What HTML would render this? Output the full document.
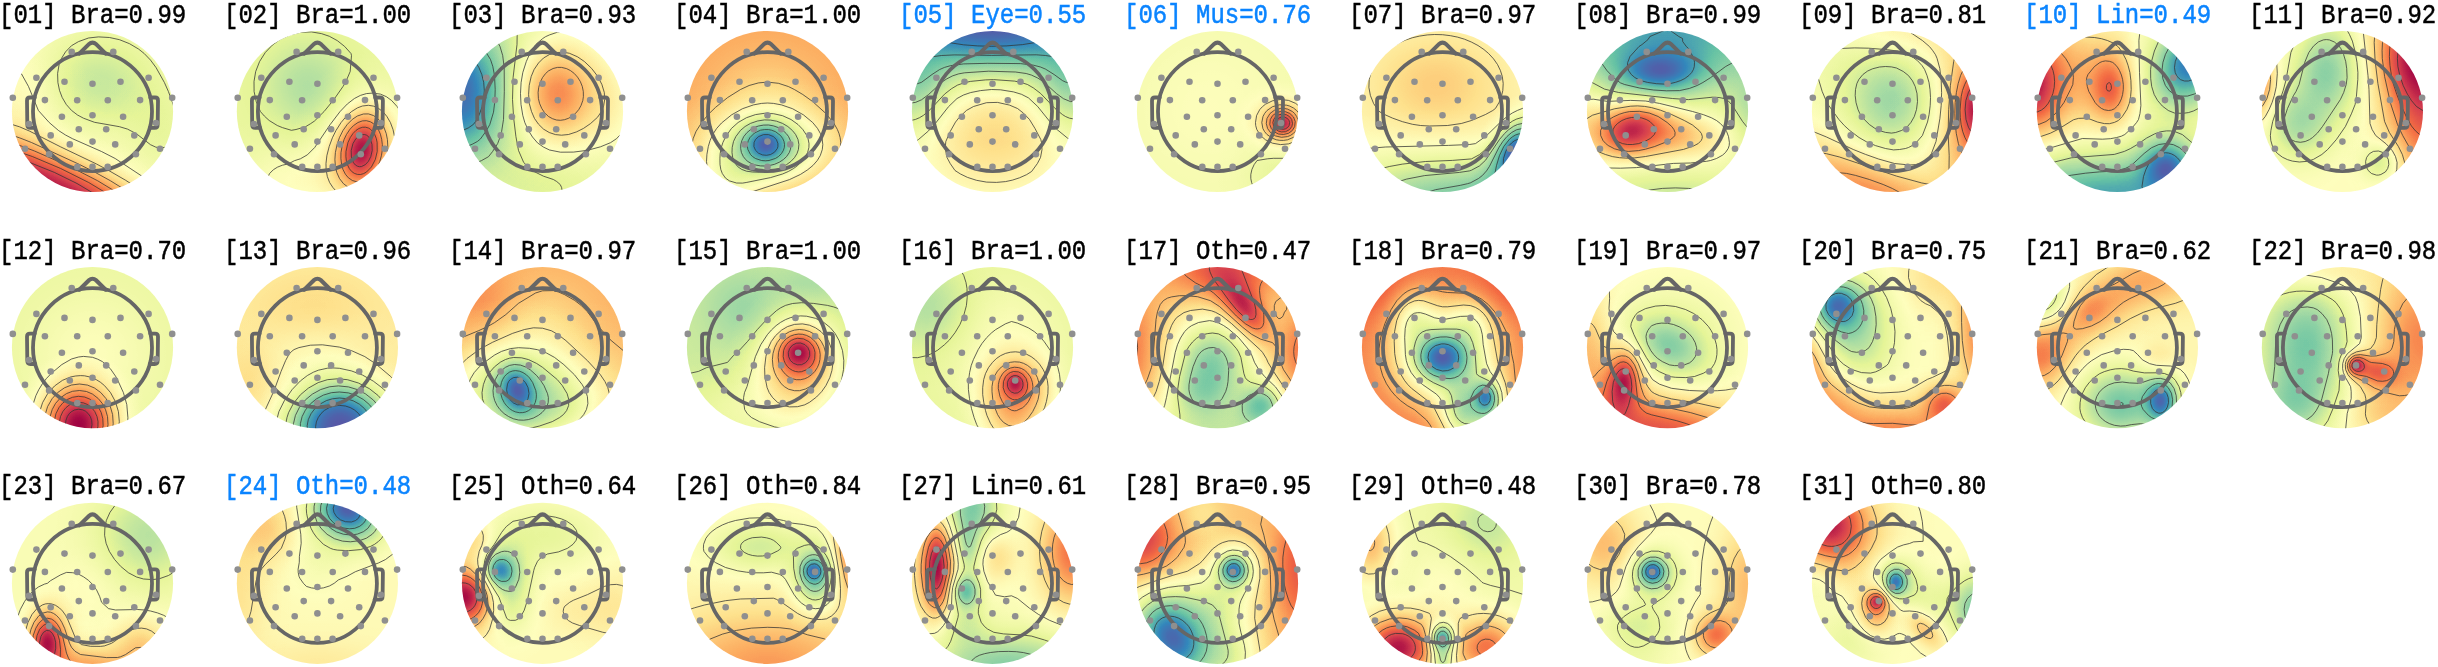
<!DOCTYPE html><html><head><meta charset="utf-8"><title>ICA components</title><style>
html,body{margin:0;padding:0;background:#fff}body{width:2438px;height:667px;overflow:hidden;position:relative;font-family:"Liberation Mono",monospace}
.lb{position:absolute;font-size:24px;line-height:28px;white-space:pre;color:#000;transform-origin:0 0;transform:scale(1,1.13);-webkit-text-stroke:0.45px currentColor}
.lb.b{color:#0a84ff}
svg{position:absolute;left:0;top:0}
.ct{fill:none;stroke:#333;stroke-opacity:.85;stroke-width:.9}
.hd{fill:none;stroke:#666;stroke-width:3.8;stroke-linejoin:round;stroke-linecap:round}
.el{fill:#8f8f8f}
</style></head><body>
<div class="lb" style="left:-1px;top:-.4px">[01] Bra=0.99</div>
<div class="lb" style="left:224px;top:-.4px">[02] Bra=1.00</div>
<div class="lb" style="left:449px;top:-.4px">[03] Bra=0.93</div>
<div class="lb" style="left:674px;top:-.4px">[04] Bra=1.00</div>
<div class="lb b" style="left:899px;top:-.4px">[05] Eye=0.55</div>
<div class="lb b" style="left:1124px;top:-.4px">[06] Mus=0.76</div>
<div class="lb" style="left:1349px;top:-.4px">[07] Bra=0.97</div>
<div class="lb" style="left:1574px;top:-.4px">[08] Bra=0.99</div>
<div class="lb" style="left:1799px;top:-.4px">[09] Bra=0.81</div>
<div class="lb b" style="left:2024px;top:-.4px">[10] Lin=0.49</div>
<div class="lb" style="left:2249px;top:-.4px">[11] Bra=0.92</div>
<div class="lb" style="left:-1px;top:235.6px">[12] Bra=0.70</div>
<div class="lb" style="left:224px;top:235.6px">[13] Bra=0.96</div>
<div class="lb" style="left:449px;top:235.6px">[14] Bra=0.97</div>
<div class="lb" style="left:674px;top:235.6px">[15] Bra=1.00</div>
<div class="lb" style="left:899px;top:235.6px">[16] Bra=1.00</div>
<div class="lb" style="left:1124px;top:235.6px">[17] Oth=0.47</div>
<div class="lb" style="left:1349px;top:235.6px">[18] Bra=0.79</div>
<div class="lb" style="left:1574px;top:235.6px">[19] Bra=0.97</div>
<div class="lb" style="left:1799px;top:235.6px">[20] Bra=0.75</div>
<div class="lb" style="left:2024px;top:235.6px">[21] Bra=0.62</div>
<div class="lb" style="left:2249px;top:235.6px">[22] Bra=0.98</div>
<div class="lb" style="left:-1px;top:471.4px">[23] Bra=0.67</div>
<div class="lb b" style="left:224px;top:471.4px">[24] Oth=0.48</div>
<div class="lb" style="left:449px;top:471.4px">[25] Oth=0.64</div>
<div class="lb" style="left:674px;top:471.4px">[26] Oth=0.84</div>
<div class="lb" style="left:899px;top:471.4px">[27] Lin=0.61</div>
<div class="lb" style="left:1124px;top:471.4px">[28] Bra=0.95</div>
<div class="lb" style="left:1349px;top:471.4px">[29] Oth=0.48</div>
<div class="lb" style="left:1574px;top:471.4px">[30] Bra=0.78</div>
<div class="lb" style="left:1799px;top:471.4px">[31] Oth=0.80</div>
<svg width="2438" height="667" viewBox="0 0 2438 667">
<defs><clipPath id="cp"><circle r="80.6"/></clipPath>
<radialGradient id="gp"><stop offset="0" stop-color="#fff" stop-opacity="1"/><stop offset=".0833" stop-color="#fff" stop-opacity=".969"/><stop offset=".1667" stop-color="#fff" stop-opacity=".882"/><stop offset=".25" stop-color="#fff" stop-opacity=".755"/><stop offset=".3333" stop-color="#fff" stop-opacity=".607"/><stop offset=".4167" stop-color="#fff" stop-opacity=".458"/><stop offset=".5" stop-color="#fff" stop-opacity=".325"/><stop offset=".5833" stop-color="#fff" stop-opacity=".216"/><stop offset=".6667" stop-color="#fff" stop-opacity=".135"/><stop offset=".75" stop-color="#fff" stop-opacity=".08"/><stop offset=".8333" stop-color="#fff" stop-opacity=".044"/><stop offset=".9167" stop-color="#fff" stop-opacity=".023"/><stop offset="1" stop-color="#fff" stop-opacity="0"/></radialGradient>
<radialGradient id="gn"><stop offset="0" stop-color="#000" stop-opacity="1"/><stop offset=".0833" stop-color="#000" stop-opacity=".969"/><stop offset=".1667" stop-color="#000" stop-opacity=".882"/><stop offset=".25" stop-color="#000" stop-opacity=".755"/><stop offset=".3333" stop-color="#000" stop-opacity=".607"/><stop offset=".4167" stop-color="#000" stop-opacity=".458"/><stop offset=".5" stop-color="#000" stop-opacity=".325"/><stop offset=".5833" stop-color="#000" stop-opacity=".216"/><stop offset=".6667" stop-color="#000" stop-opacity=".135"/><stop offset=".75" stop-color="#000" stop-opacity=".08"/><stop offset=".8333" stop-color="#000" stop-opacity=".044"/><stop offset=".9167" stop-color="#000" stop-opacity=".023"/><stop offset="1" stop-color="#000" stop-opacity="0"/></radialGradient>
<filter id="cm" filterUnits="userSpaceOnUse" x="-90" y="-90" width="180" height="180" color-interpolation-filters="sRGB"><feComponentTransfer><feFuncR type="table" tableValues=".369 .199 .4 .665 .902 1 .996 .991 .957 .831 .62"/><feFuncG type="table" tableValues=".31 .529 .761 .865 .961 .998 .878 .677 .427 .238 .004"/><feFuncB type="table" tableValues=".635 .739 .647 .643 .596 .745 .545 .378 .263 .309 .259"/></feComponentTransfer></filter>
<g id="hd"><circle class="hd" cx="0" cy=".1" r="59.5"/><path class="hd" style="stroke-width:4.1" d="M-13.2 -57.9L-3.3 -67.6Q-1.9 -68.9 0 -68.9Q1.9 -68.9 3.3 -67.6L13.2 -57.9"/><path class="hd" style="stroke-width:3.8" d="M-57.8 -14L-62.6 -14Q-65.5 -14 -65.5 -10.8L-65.2 13Q-65.2 16.4 -62.2 16.4L-57.2 16.4"/><path class="hd" style="stroke-width:3.8" d="M57.8 -14L62.6 -14Q65.5 -14 65.5 -10.8L65.2 13Q65.2 16.4 62.2 16.4L57.2 16.4"/><circle class="el" cx="-20.8" cy="-59.6" r="3.3"/><circle class="el" cx="20.8" cy="-59.6" r="3.3"/><circle class="el" cx="-56.1" cy="-33.7" r="3.3"/><circle class="el" cx="56.1" cy="-33.7" r="3.3"/><circle class="el" cx="-28" cy="-29.7" r="3.3"/><circle class="el" cx="28" cy="-29.7" r="3.3"/><circle class="el" cx="-79.7" cy="-13.7" r="3.3"/><circle class="el" cx="79.7" cy="-13.7" r="3.3"/><circle class="el" cx="-47.6" cy="-11.4" r="3.3"/><circle class="el" cx="47.6" cy="-11.4" r="3.3"/><circle class="el" cx="-15.3" cy="-11.3" r="3.3"/><circle class="el" cx="15.3" cy="-11.3" r="3.3"/><circle class="el" cx="-63.5" cy="12.5" r="3.3"/><circle class="el" cx="63.5" cy="11.5" r="3.3"/><circle class="el" cx="-30.6" cy="5.2" r="3.3"/><circle class="el" cx="30.6" cy="5.2" r="3.3"/><circle class="el" cx="-41.8" cy="23.9" r="3.3"/><circle class="el" cx="41.8" cy="23.9" r="3.3"/><circle class="el" cx="-13.7" cy="17.8" r="3.3"/><circle class="el" cx="13.7" cy="17.8" r="3.3"/><circle class="el" cx="-67.5" cy="37.2" r="3.3"/><circle class="el" cx="67.5" cy="37.2" r="3.3"/><circle class="el" cx="-22.7" cy="32.9" r="3.3"/><circle class="el" cx="22.7" cy="32.9" r="3.3"/><circle class="el" cx="-43.4" cy="42.8" r="3.3"/><circle class="el" cx="43.4" cy="42.8" r="3.3"/><circle class="el" cx="-15.2" cy="55.4" r="3.3"/><circle class="el" cx="15.2" cy="55.4" r="3.3"/><circle class="el" cx="0" cy="-27.7" r="3.3"/><circle class="el" cx="0" cy="3.7" r="3.3"/><circle class="el" cx="0" cy="30.1" r="3.3"/><circle class="el" cx="0" cy="55.4" r="3.3"/></g>
</defs>
<g transform="translate(92.5 111.5)">
<g clip-path="url(#cp)"><g filter="url(#cm)"><circle r="83.6" fill="rgb(121,121,121)"/><ellipse cx="8.1" cy="-28.2" rx="120.9" ry="101.6" fill="url(#gn)" opacity=".27"/><ellipse cx="68.5" cy="24.2" rx="72.5" ry="96.7" fill="url(#gn)" opacity=".12"/><ellipse cx="-68.5" cy="-16.1" rx="72.5" ry="120.9" fill="url(#gp)" opacity=".08"/><ellipse cx="-32.2" cy="60.4" rx="241.8" ry="120.9" transform="rotate(24 -32.2 60.4)" fill="url(#gp)" opacity=".08"/><ellipse cx="-44.3" cy="74.2" rx="266" ry="65.3" transform="rotate(24 -44.3 74.2)" fill="url(#gp)" opacity=".62"/><ellipse cx="-44.3" cy="79" rx="266" ry="53.2" transform="rotate(24 -44.3 79)" fill="url(#gp)" opacity=".85"/></g><path class="ct" d="M84 6.8 80.7 -7 75.9 -20 71.9 -29 63.5 -44 58 -51.4 51.7 -58 46 -62.5 37 -67.8 27 -71.8 17 -74 6 -74.6 -4 -73.5 -14 -69.9 -21 -65.8 -27 -59.6 -31 -53.1 -33.4 -47 -34.9 -38 -34.6 -29 -33 -21.1 -30.3 -14 -26.2 -7 -21 -1.1 -15 3.5 -9 6.7 2 10.8 27 15.2 35 17.6 44 22.3 58 33.2 63 35.5 66 36.3 69 36.4 72 35.9 75 34.7 78 32.4 80.1 30 82.2 26 84 19.2M-84 -41.2 -81 -42.5 -78 -42.1 -74 -40.1 -71 -37.6 -64 -25 -54.1 -1 -43.3 11 -34 19 -27 23.5 -20 27.2 9 40 22.7 47 56 69 83.1 84M-84 11.9 -73 15.3 -63 19.6 -32 35.3 4 52.5 16 58.9 33 68.7 56.8 84M-84 22.7 -73 26.3 -61 31 -14 52.5 2 60.5 18 69.3 41.6 84M-84 30.3 -71 34.6 -58 39.5 -23 54.9 5 69.2 29.5 84M-84 36.9 -60.2 45 -31.8 57 -3.8 71 17.8 84M-84 44.6 -62.7 51 -37.9 61 -15.5 72 4.7 84"/></g>
<use href="#hd"/></g>
<g transform="translate(317.4 111.5)">
<g clip-path="url(#cp)"><g filter="url(#cm)"><circle r="83.6" fill="rgb(108,108,108)"/><ellipse cx="-9.7" cy="-25.8" rx="96.7" ry="96.7" fill="url(#gn)" opacity=".26"/><ellipse cx="-24.2" cy="68.5" rx="96.7" ry="72.5" fill="url(#gp)" opacity=".13"/><ellipse cx="44.3" cy="40.3" rx="72.5" ry="101.6" transform="rotate(10 44.3 40.3)" fill="url(#gp)" opacity=".55"/><ellipse cx="44.3" cy="38.7" rx="36.3" ry="58" transform="rotate(10 44.3 38.7)" fill="url(#gp)" opacity=".9"/></g><path class="ct" d="M-21.4 18 -12 15.3 -7 12.3 -3 9.6 6.7 0 16.5 -12 25.6 -25 28.1 -29 32.8 -40 34.1 -56 33.6 -58 27.3 -65 20 -70.8 12 -75.2 4 -77.9 -6 -79.6 -17 -79.2 -27 -76.8 -37 -72.3 -45 -66.5 -52.1 -59 -57.8 -50 -61.7 -40 -63.4 -30 -63.3 -20 -61.2 -10 -57 0 -53 4.6 -48.2 9 -40.1 14 -35 16.1 -26 18.8 -21.4 18M-38.9 84 -42.1 82 -45 79.4 -48.5 74 -49.4 71 -49.6 68 -48.8 64 -47.8 62 -44 58.2 -40 55.7 -35 53.7 -29 52.4 -23 49.2 -17 47.3 -10 43.3 -2.7 36 12.8 13 22.7 0 30 -7.6 37 -13 43 -16.1 49 -17.9 55 -18.4 63 -17.4 69 -14.8 74.2 -11 79.7 -5 84 1.9M24.3 84 19.1 80 15.5 76 12.2 71 9.9 65 8.7 58 8.6 52 9.5 44 11.8 35 15 26.3 18.6 19 23.7 11 29 4.7 34 .2 40 -3.6 45 -5.5 51 -6.2 56 -5.4 61 -3.2 66 .7 69.5 5 73 11 75.6 18 77.1 25 77.7 32 77.4 40 76.2 48 74 56 71 63.3 67.2 70 63 75.6 58 80.5 53 84M41 78.1 35 77.4 30 75.2 25.9 72 22.1 67 19.4 61 18 55 17.5 48 18 41 19.7 33 22.1 26 25.6 19 30 12.8 35 7.8 40 4.5 46 2.5 51 2.4 56 4 60 6.7 63.8 11 66.6 16 68.8 22 70 28 70.4 35 69.9 42 68.5 49 66.1 56 63.1 62 59.7 67 55 71.9 51 74.8 46 77.1 41 78.1M43 70.2 39 70.2 35 69 31 66.3 28 62.7 25.6 58 24.2 53 23.5 47 23.6 41 24.8 34 26.7 28 29.1 23 32.4 18 36 14.2 40.6 11 45 9.4 49 9.2 53 10.3 55.9 12 58.9 15 61 18.1 63 22.7 64.3 28 64.9 33 64.8 39 64 44.2 62.4 50 60 55.7 57.4 60 54.1 64 51 66.7 47 69 43 70.2M43 63 40 62.9 37 61.9 34.3 60 32 57.2 30 53.1 29 49.4 28.5 45 28.6 40 30.6 31 32.9 26 35.6 22 38.5 19 41.5 17 45 15.8 48 15.7 51 16.5 53 17.7 55.3 20 57.3 23 58.9 27 59.7 31 59.8 40 57.9 48 54 55.5 49 60.6 46 62.2 43 63M44 55.1 42 55.2 40 54.7 38 53.5 36 51.1 34 45.5 33.8 39 35.6 32 38.6 27 41 24.7 43 23.5 47 23 49 23.6 51 25 53.1 28 54.6 33 54.8 39 53.4 45 51 49.8 48 53.1 44 55.1"/></g>
<use href="#hd"/></g>
<g transform="translate(542.5 111.5)">
<g clip-path="url(#cp)"><g filter="url(#cm)"><circle r="83.6" fill="rgb(112,112,112)"/><ellipse cx="-88.7" cy="-16.1" rx="145.1" ry="145.1" fill="url(#gn)" opacity=".72"/><ellipse cx="-84.6" cy="-19.3" rx="72.5" ry="101.6" transform="rotate(15 -84.6 -19.3)" fill="url(#gn)" opacity=".6"/><ellipse cx="8.1" cy="72.5" rx="120.9" ry="60.4" fill="url(#gn)" opacity=".1"/><ellipse cx="68.5" cy="-8.1" rx="60.4" ry="96.7" fill="url(#gp)" opacity=".12"/><ellipse cx="14.5" cy="-17.7" rx="87" ry="101.6" fill="url(#gp)" opacity=".58"/></g><path class="ct" d="M-84 20 -79 18.6 -74 16.3 -69 12.8 -66.9 10 -63.2 3 -60.3 -5 -58.7 -13 -58.2 -21 -58.8 -29 -60.7 -37 -63.6 -44 -67 -49.4 -70 -51.9 -74.7 -54 -79 -55.1 -84 -55.4M-84 36.9 -75 34.7 -70 32.6 -65 29.9 -62 27.4 -56 19 -52.7 13 -49 .7 -47.7 -10 -47.3 -22 -48 -36 -49.7 -45 -52 -52 -57.6 -61 -62 -66.1 -67.8 -69 -76 -71.3 -84 -71.8M-84 55.3 -76 54.2 -68 52 -61 49.1 -54 45.2 -49.9 40 -44.8 32 -42.2 25 -40.9 20 -39 8 -38.2 -20 -38.3 -44 -39.8 -56 -42.5 -65 -45.6 -71 -53.5 -81 -58.9 -84M18.5 84 20.1 83 20.1 82 19.1 76 17.7 73 14.2 70 10.9 68 1 64.7 -10.5 59 -18.8 51 -24 39 -26.6 25 -28.9 6 -30 -12 -29.4 -34 -25.5 -67 -25.3 -78 -26.3 -84M84 14.2 79.9 21 74 27.2 68 31.2 58 35.3 45 38.8 31 40.6 18 40.7 7 38.5 1 35.6 -5 31.4 -10 25.5 -14.1 19 -17.7 11 -19.7 4 -21.5 -7 -22 -18 -21.4 -29 -19.7 -39 -16.2 -50 -12 -59.4 -6.7 -67 0 -72.8 3 -74.8 7 -76.6 15 -79.3 23 -79.6 32 -78.5 39 -76.7 46 -73.6 59 -64.8 69 -56.2 78 -45.9 81.1 -41 84 -35.1M26 23 19 23.7 13 23.1 6.7 21 1 17.6 -4 12.7 -8 7 -11 0 -13.2 -8 -13.9 -17 -13.3 -26 -11.3 -35 -8.4 -42 -4 -48.5 1 -53.5 7 -57 13 -58.9 21 -59.3 27 -58.2 35 -54.7 42 -49.9 49.2 -43 55.3 -35 59.4 -27 61.8 -19 62.2 -12 61.2 -6 59 -.1 55 5.8 48 12.1 41 16.9 34 20.4 26 23M22 8.2 18 8.8 14 8.5 10 7.2 6 5 2 1.1 -.7 -3 -2.9 -8 -4.1 -13 -4.4 -19 -3.8 -24 -2.4 -29 0 -33.9 3 -37.9 6 -40.6 10.6 -43 15 -44.1 19 -44.1 24 -42.9 28 -40.9 31.8 -38 35 -34.4 37.8 -30 39.8 -25 40.8 -20 40.9 -15 40.3 -11 38.5 -6 36.3 -2 33 1.9 30 4.5 26 6.8 22 8.2"/></g>
<use href="#hd"/></g>
<g transform="translate(767.5 111.5)">
<g clip-path="url(#cp)"><g filter="url(#cm)"><circle r="83.6" fill="rgb(181,181,181)"/><ellipse cx="0" cy="-16.1" rx="120.9" ry="96.7" fill="url(#gn)" opacity=".12"/><ellipse cx="-36.3" cy="68.5" rx="72.5" ry="60.4" fill="url(#gn)" opacity=".25"/><ellipse cx="0" cy="32.2" rx="157.2" ry="79.8" fill="url(#gn)" opacity=".22"/><ellipse cx="0" cy="36.3" rx="101.6" ry="72.5" fill="url(#gn)" opacity=".5"/><ellipse cx="-1.6" cy="33" rx="41.1" ry="36.3" fill="url(#gn)" opacity=".9"/></g><path class="ct" d="M3.1 43 7 40.7 9.8 37 10.4 35 10.4 32 8.9 28 5.8 25 1 23.1 -4 23.1 -9 25.1 -12 28 -13.4 31 -13.6 35 -12 38.8 -9 41.7 -5 43.4 -1 43.8 3.1 43M1.5 49 8 46.9 11 45 14 42 15.8 39 16.8 36 17 33 16.5 30 15.2 27 13 24 8 20.2 4 18.7 1 18.1 -3 18.1 -7 18.7 -13 21.5 -17.5 26 -19.1 29 -20 32 -20.1 35 -19.6 38 -17 43 -15 45 -12 47 -6 49 -2 49.3 1.5 49M2 54 7 52.8 12 50.6 15.9 48 19.1 45 21.8 41 23 37.6 23.4 33 22.8 29 21 25 18.7 22 15 18.6 10.6 16 6 14.4 1 13.5 -4 13.6 -9 14.5 -13 15.9 -17 18.2 -20.4 21 -23.7 25 -25.6 29 -26.7 33 -26.8 37 -26.1 41 -24.2 45 -22 47.9 -19.6 50 -16 52.1 -12 53.5 -7 54.4 -2 54.5 2 54M-.1 60 7 58.5 13 56.4 19 53.2 23.3 50 27 46.1 29.5 42 30.9 38 31.4 33 30.5 28 28.1 23 24.9 19 20.3 15 15 11.9 9 9.7 3 8.6 -3 8.4 -10 9.5 -17 11.9 -22.4 15 -27 18.9 -31.6 25 -34 30 -35.3 36 -35.5 41 -34.8 46 -32.9 51 -29.9 55 -26 57.8 -21 59.7 -15 60.5 -8 60.7 -.1 60M-21.3 71 3 66.1 15 62.5 20.8 60 26.1 57 30.1 54 34.2 50 38.1 45 40.1 41 41.4 36 41.5 32 40.5 27 38.6 23 35.3 18 30.5 13 23.5 8 15 4.2 6 2.2 -3 1.8 -12 3.1 -21 6.2 -29.4 11 -36.1 17 -41.7 25 -44.6 31 -46.2 36 -47.3 42 -47.6 47 -47.5 53 -46.7 58 -45.2 62 -42 66.6 -38 69.4 -31 71.5 -25 71.6 -21.3 71M-28.8 83 -16 80.5 22 68.1 33 62.9 40 58.4 45.4 54 49.8 49 52.8 44 54.8 38 55.3 33 54.6 27 52.9 22 50 16.9 45.2 11 36 3.4 25 -2.8 14 -6.6 6 -8.1 0 -8.5 -6 -8.1 -14 -6.6 -25 -2.8 -36 3.4 -46 11.5 -50.9 17 -54.8 23 -57.4 29 -59.2 35 -60.6 43 -61 50 -59.6 62 -57.8 67 -55 72 -52 75.5 -48.8 78 -44 80.6 -39 82.3 -34 83 -28.8 83M7.1 84 27 77.6 39 72.6 48 68 55.2 63 63.7 55 68.9 48 70.9 44 72.5 39 73.3 31 72.6 26 71.5 22 69.9 18 66.5 12 58.4 2 45.1 -10 35.3 -17 26.9 -22 20.8 -25 11 -28.2 0 -29.4 -9 -28.6 -18.4 -26 -27 -22 -39.8 -14 -52 -4.1 -59.3 3 -65.8 11 -71.5 20 -74.3 27 -75.8 34 -76.5 43 -75.9 53 -73.6 64 -70.1 73 -66.4 79 -61.8 84"/></g>
<use href="#hd"/></g>
<g transform="translate(992.5 111.5)">
<g clip-path="url(#cp)"><g filter="url(#cm)"><circle r="83.6" fill="rgb(120,120,120)"/><ellipse cx="0" cy="-100.8" rx="217.6" ry="133" fill="url(#gn)" opacity="1"/><ellipse cx="0" cy="-96.7" rx="241.8" ry="84.6" fill="url(#gn)" opacity=".8"/><ellipse cx="-76.6" cy="-32.2" rx="72.5" ry="108.8" fill="url(#gn)" opacity=".45"/><ellipse cx="76.6" cy="-32.2" rx="72.5" ry="108.8" fill="url(#gn)" opacity=".45"/><ellipse cx="1.6" cy="20.1" rx="145.1" ry="120.9" fill="url(#gp)" opacity=".27"/></g><path class="ct" d="M-77.5 -84 -76.3 -82 -74.2 -80 -68.5 -76 -62 -73 -54 -70.5 -29 -66.7 -15 -65.6 -1 -65.2 14 -65.6 30 -66.9 55 -70.9 63 -73.6 69 -76.5 74 -80.1 77.5 -84M-84 -61.1 -81 -58.1 -77 -55.5 -73 -54.1 -68 -53.7 -51 -56 -38 -56.6 -1 -56.1 44 -56.7 53 -56 65 -54.2 69 -54.1 73 -54.6 77 -55.9 80.4 -58 84 -61.4M-84 -29.7 -82 -28.3 -78 -27.6 -75 -27.8 -71 -29.2 -60.5 -37 -52.8 -42 -48 -44.1 -42 -45.8 -29 -47.6 -5 -48.2 28 -47.9 41 -46.3 48 -44.5 53 -42.4 61.6 -37 70 -30.9 73 -29.5 76 -28.6 79 -28.5 82 -29.1 84 -30.5M-84 -9.1 -80 -8.7 -77 -9.1 -71 -11.7 -63.9 -17 -50 -29.8 -46 -32.5 -40 -35.6 -34 -37.6 -28 -38.7 -4 -40.3 23 -39.5 33.7 -38 39 -36.4 45 -33.6 50.7 -30 64 -17.9 71 -12.8 78 -9.9 84 -10.1M-84 8.9 -81 8.9 -77 7.9 -73 6.2 -69 3.8 -62 -2.2 -48 -17.3 -41 -22.8 -35 -26.4 -28 -28.8 -22 -30.1 -7 -31.6 1 -31.9 22 -30.4 28 -29.2 35 -27 41 -23.5 48.2 -18 62.6 -3 70 3.1 73 5 77 6.7 84 7.9M-84 34.4 -81 33 -74 28 -64 19.4 -58 13 -44 -4.8 -35.5 -13 -29 -16.5 -22 -18.9 -12 -20.9 -1 -22 8 -21.7 21 -19.6 29 -17.2 36 -13.6 45.2 -5 59 12.2 64 17.6 75 26.6 84 32M13 70.1 4 70.9 -6 70.6 -16 68.8 -25 65.9 -32 62.5 -37.5 59 -42.3 52 -45.5 46 -47.3 37 -46.7 30 -42.3 20 -37 10.6 -33.4 6 -26 -1.1 -19 -5 -6 -8.8 5 -9.1 17 -6.4 25 -3 31 1.7 37 8 42.5 17 48.3 28 49 31 49.5 38 48 46 44.9 52 39.1 60 34 63.2 27 66.3 20 68.6 13 70.1"/></g>
<use href="#hd"/></g>
<g transform="translate(1217.5 111.5)">
<g clip-path="url(#cp)"><g filter="url(#cm)"><circle r="83.6" fill="rgb(116,116,116)"/><ellipse cx="-8.1" cy="-4" rx="157.2" ry="157.2" fill="url(#gp)" opacity=".07"/><ellipse cx="60.4" cy="60.4" rx="72.5" ry="60.4" fill="url(#gn)" opacity=".1"/><ellipse cx="64.5" cy="11.3" rx="48.4" ry="43.5" fill="url(#gp)" opacity=".5"/><ellipse cx="65.3" cy="11.7" rx="29" ry="26.6" fill="url(#gp)" opacity=".5"/><ellipse cx="65.7" cy="11.7" rx="16.9" ry="15.7" fill="url(#gp)" opacity=".6"/></g><path class="ct" d="M84 47.5 72 46.8 56 46.8 50 47.3 39.6 49 36.7 53 34.4 58 33.3 63 33.3 67 34.1 71 36.1 76 39 80 43.3 84M84 25.2 78 29.8 71 32.4 63 33.1 55 31.7 48 28.3 43 24 39.3 18 38.2 14 38 11 39.1 4 42.3 -2 45 -4.9 48 -7.3 55 -10.7 63 -12 71 -11.1 78 -8.2 84 -3.4M84 15.2 83 18 81.3 21 79 23.6 76 25.8 70 28.3 66 28.9 62 28.8 59 28.3 55 26.8 49.5 23 47 20 45.4 17 44.3 11 45.5 5 47.1 2 49.5 -1 55 -4.8 62 -6.7 69 -6.3 72 -5.5 76 -3.5 79.1 -1 81.7 2 84 7.4M70 25.1 64 25.8 58 24.4 53 21.1 50.1 17 48.8 12 49.5 7 52.5 2 57 -1.3 63 -3.1 67 -3 70 -2.4 75 .1 77.1 2 79.2 5 80.4 8 80.9 11 80.6 14 79.6 17 78 19.7 75.8 22 73 23.9 70 25.1M66 23 61 22.5 57 20.5 53.8 17 52.3 13 52.8 8 55 4.2 59 1.2 63 0 68 .2 72.4 2 76 5.5 77.7 10 77.2 15 74.8 19 71 21.8 66 23M68 20.2 64 20.4 61 19.6 58 17.6 56.2 15 55.4 11 56.2 8 58 5.5 61 3.4 65 2.6 69 3.3 72 5.1 74.2 8 75 12 74.3 15 72 18.1 68 20.2M68 17.3 66 17.8 63 17.4 60.7 16 59.2 14 58.7 12 58.9 10 60 7.9 62 6.3 64 5.5 67 5.6 69.9 7 71.5 9 72.1 11 71.6 14 70.1 16 68 17.3"/></g>
<use href="#hd"/></g>
<g transform="translate(1442.5 111.5)">
<g clip-path="url(#cp)"><g filter="url(#cm)"><circle r="83.6" fill="rgb(131,131,131)"/><ellipse cx="-6.4" cy="-26.6" rx="145.1" ry="108.8" fill="url(#gp)" opacity=".25"/><ellipse cx="8.1" cy="92.7" rx="241.8" ry="96.7" fill="url(#gn)" opacity=".55"/><ellipse cx="64.5" cy="64.5" rx="120.9" ry="48.4" transform="rotate(-40 64.5 64.5)" fill="url(#gn)" opacity=".3"/><ellipse cx="73.3" cy="41.9" rx="41.1" ry="65.3" transform="rotate(23 73.3 41.9)" fill="url(#gn)" opacity=".95"/></g><path class="ct" d="M84 33 83 31 81 29 79 28 77 27.7 75 28 72 29.2 69 31.5 66.7 34 63.2 40 61 47 60.7 54 61.2 57 62.6 60 64.8 62 67 62.7 70 62.4 74 60.4 77 57.9 80 54.2 82.4 50 84 45.7M84 23.9 82 22.8 79 22.2 76 22.5 73 23.5 70 25.3 67 27.7 61.3 35 57 44 54 54 50 74 50 76 50.8 78 53 79.6 57 79.9 60 79.3 67 76.2 72 72.8 77 68.3 81 63.6 84 59.1M84 17.8 79 17.2 74 18.3 69 21.1 64.5 25 60.3 30 56.4 36 47 54.8 44 59.4 40 63.9 36 67 28 71.3 25 72.2 18 73.8 -7 78.2 -18 81.7 -23 84M84 12 80 11.9 75 13 71 14.8 66 18.3 62 22.1 57 28 43 48.8 37 54.4 29 58.7 27 59.4 17 60.9 -18 64.1 -36 67.6 -46.7 71 -55.8 75 -61.7 79 -66.6 84M84 5.5 80 5.8 74 7.6 70 9.6 66 12.4 57 20.8 42 38.9 37 43.1 29 47.4 10 48.9 -17 50 -40 52.6 -53.2 55 -63 57.5 -74 61 -84 65.1M84 -4.1 80 -3.1 75 -1.1 70 1.4 65 4.7 58.6 10 44 24.2 33 32.1 27 33 6 33.9 -57 35.5 -84 37.7M5 14 -13 14.5 -22 14 -30 12.8 -40 10.2 -50 6.6 -60 2.1 -64 -.6 -68.9 -8 -72.1 -16 -73.6 -24 -73.3 -32 -71.2 -40 -67.3 -48 -62 -55 -55.6 -61 -50 -65 -44 -68.4 -37 -71.5 -30 -73.8 -23 -75.4 -15 -76.6 -8 -77 0 -76.8 8 -75.8 15 -74.4 22 -72.3 29 -69.4 35.5 -66 41.4 -62 46.1 -58 51 -52.7 55 -47 57.9 -41 59.8 -35 60.7 -28 60.3 -21 58.9 -15 56.5 -9 53 -3.1 50.3 -1 43 3 29 9 18.8 12 5 14"/></g>
<use href="#hd"/></g>
<g transform="translate(1667.5 111.5)">
<g clip-path="url(#cp)"><g filter="url(#cm)"><circle r="83.6" fill="rgb(115,115,115)"/><ellipse cx="0" cy="-80.6" rx="266" ry="120.9" fill="url(#gn)" opacity=".68"/><ellipse cx="84.6" cy="0" rx="48.4" ry="108.8" fill="url(#gn)" opacity=".25"/><ellipse cx="8.1" cy="92.7" rx="193.4" ry="60.4" fill="url(#gn)" opacity=".25"/><ellipse cx="-4" cy="21.8" rx="120.9" ry="48.4" transform="rotate(5 -4 21.8)" fill="url(#gp)" opacity=".45"/><ellipse cx="-80.6" cy="12.1" rx="48.4" ry="72.5" fill="url(#gp)" opacity=".2"/><ellipse cx="-7.3" cy="-41.9" rx="87" ry="45.9" fill="url(#gn)" opacity=".9"/><ellipse cx="-36.3" cy="19.3" rx="67.7" ry="48.4" transform="rotate(-15 -36.3 19.3)" fill="url(#gp)" opacity=".85"/></g><path class="ct" d="M3 -28 8 -29.2 13.3 -31 17.3 -33 21.4 -36 24.2 -39 25.9 -42 26.8 -45 27 -49 26.6 -52 25.4 -55 21 -63 18.8 -65 15.2 -70 15 -73 11.3 -75 2.8 -81 -1 -81.5 -3.3 -81 -17.6 -75 -19.4 -72 -25.4 -67 -28.5 -65 -37.5 -55 -39.8 -49 -40.1 -45 -39 -41 -36.2 -37 -32.7 -34 -27.2 -31 -20 -29.1 -11 -27.8 -3 -27.4 3 -28M-83.6 -84 -83.9 -79 -83.1 -75 -76.6 -62 -69 -52.7 -60.6 -41 -53 -33 -47 -28.6 -42.9 -27 -28 -23.5 -14 -21.5 -1 -20.7 12 -20.9 22 -23.1 29.7 -26 35.4 -29 43 -33.8 58 -44.9 71 -52 80 -59.7 84 -65.3M-84 -32.4 -76 -29.3 -63 -22.4 -48.8 -19 5 -13 21 -11.9 45 -14.3 51.6 -14 57 -12.9 59.1 -12 61 -10.4 64.9 -6 75.1 10 80 16.1 84 19.6M52.2 84 44 80.9 33 78.4 21 76.9 8 76.4 -5 76.9 -17 78.4 -28 80.9 -36 84M-84 -11.8 -74 -12.3 -60 -10.1 -37 -11.1 -22 -10.5 -8 -8.1 25.1 0 36 3.2 44 6.3 49 9 52.9 12 57 16.4 59.1 20 61 25 61.9 31 61.7 34 60.7 37 58 41 55 43.7 49 47 43 49 39 49.8 23 51.5 6 51.9 -31 56.1 -47 56.7 -57 56.5 -69 55.5 -78 54.1 -84 52.5M-84 11.4 -80.4 7 -75 3.7 -53 -2.7 -37 -5.3 -30 -5.6 -23 -5.1 -16 -3.9 -7 -1.3 4.1 3 17 9.1 25 13.5 31.6 19 33.9 22 34.8 25 34.6 27 33.7 29 30.8 32 26 34.5 16 37.9 -22 45 -33 46.4 -40 46.7 -48 46.2 -55 45.1 -62.1 43 -69.5 40 -74 37.6 -77.4 35 -81.9 30 -84 26.1M-29 39.1 -39 39.9 -46 39.2 -53 37.3 -59.3 34 -62 31.8 -64.5 29 -66.8 24 -66.9 19 -64.6 14 -62 11 -58.3 8 -54 5.4 -48 2.7 -43 1.1 -38 .1 -28 -.2 -18 1.6 -9.3 5 -.3 11 4.2 15 6.4 18 7.6 21 7.3 24 5.7 26 1 29.5 -12.8 35 -22 37.7 -29 39.1M-35 33 -40 33 -45 32.1 -49 30.4 -52.1 28 -54.1 25 -54.9 22 -54.4 18 -52.8 15 -50 12 -45.6 9 -41 7.1 -36 6 -31 5.8 -26 6.4 -21.2 8 -17.6 10 -13.6 14 -12.2 17 -12 20 -13.1 23 -17.3 27 -22.8 30 -29 32.1 -35 33"/></g>
<use href="#hd"/></g>
<g transform="translate(1892.5 111.5)">
<g clip-path="url(#cp)"><g filter="url(#cm)"><circle r="83.6" fill="rgb(128,128,128)"/><ellipse cx="-24.2" cy="80.6" rx="217.6" ry="72.5" transform="rotate(20 -24.2 80.6)" fill="url(#gp)" opacity=".5"/><ellipse cx="84.6" cy="4" rx="84.6" ry="193.4" fill="url(#gp)" opacity=".5"/><ellipse cx="8.1" cy="-76.6" rx="120.9" ry="48.4" fill="url(#gp)" opacity=".12"/><ellipse cx="-1.6" cy="-10.5" rx="96.7" ry="104" fill="url(#gn)" opacity=".43"/><ellipse cx="-56.4" cy="-48.4" rx="96.7" ry="96.7" fill="url(#gn)" opacity=".1"/><ellipse cx="83" cy="-2.4" rx="33.9" ry="72.5" fill="url(#gp)" opacity=".85"/></g><path class="ct" d="M3.1 21 9 19 14 16.1 18.4 11 21.8 5 24 -2 25 -10 24.5 -18 22.7 -25 20 -30.6 16 -35.9 10.8 -40 4 -43.5 -1 -44.6 -7 -45 -13 -44.5 -20 -42.7 -25 -40.4 -29.6 -37 -33.7 -32 -35.6 -28 -37 -22 -37.3 -16 -36.5 -9 -34.5 -2 -32.7 2 -28.2 8 -23.1 13 -18 16.6 -13 19.1 -7 20.9 -1 21.6 3.1 21M7 38 13 37 16 36 21 33.4 23.8 31 29.9 24 35 10.5 36.6 3 37.7 -6 38 -14 37.5 -22 36.5 -29 34.5 -36 32.1 -42 29.5 -46 25 -50.8 21 -53.8 17 -55.9 5 -60.4 -5 -61.8 -24 -63.3 -38 -63.6 -50 -63.1 -61 -60.4 -66.7 -57 -71.2 -52 -73.8 -46 -74.9 -41 -74 -32.4 -70.3 -20 -65.2 -8 -53.6 8 -48.2 14 -43 18.8 -33.5 26 -26 30.3 -17 34.1 -7 37 1 38.4 7 38M-84 18.7 -77 21 -66 25.5 -39.2 38 -27 42.9 -14 47.5 2 52 17 53.5 23 53.1 30.9 51 35.6 47 39 41.9 43.5 30 47.4 7 48.7 -6 49.1 -19 48.7 -31 47.3 -43 44.6 -53 43 -56.8 40 -61.2 37 -64.9 30 -70.9 18 -79 16.5 -81 15.4 -84M-84 39.5 -66 42.2 -53 45.5 4 64.6 29 71.4 37 72.9 43 72.8 46 72.2 51 69.6 53 67.5 54.9 64 56.5 57 56.7 44 55.6 22 56.2 -2 57.9 -26 61.2 -50 64 -61 66.4 -68 68.1 -72 70.7 -76 72.7 -78 76 -79.2 80 -79.9 84 -79.8M84 55.7 81 55.4 79 54.7 75.2 52 71.5 46 68 38.4 65.9 32 63.8 22 62.7 12 62.3 2 62.7 -9 63.9 -19 65.7 -28 68.1 -36 71.9 -44 75 -48.1 79 -51.6 84 -53.4M-53.9 84 -62.1 78 -66.9 73 -69.6 68 -69.7 65 -69 63.5 -64 61.6 -56 61 -46 61.9 -37 63.9 -23.1 68 -9.3 73 -.1 77 12.8 84M84 36.8 81 36.1 78 34.1 75 30.6 72.4 26 70.2 20 68.6 13 67.8 6 67.5 -1 68.7 -15 70 -21 72.2 -27 74.2 -31 77 -34.6 80 -36.9 84 -37.9M84 22.4 82 22.1 80 21.1 78 19.1 76 15.9 73.5 8 72.6 -2 73.4 -11 76 -19.3 78 -22.5 80 -24.5 82 -25.5 84 -25.6"/></g>
<use href="#hd"/></g>
<g transform="translate(2117.4 111.5)">
<g clip-path="url(#cp)"><g filter="url(#cm)"><circle r="83.6" fill="rgb(121,121,121)"/><ellipse cx="-8.1" cy="84.6" rx="266" ry="91.9" fill="url(#gn)" opacity=".68"/><ellipse cx="-40.3" cy="-36.3" rx="120.9" ry="120.9" fill="url(#gp)" opacity=".38"/><ellipse cx="-84.6" cy="-28.2" rx="60.4" ry="96.7" fill="url(#gp)" opacity=".95"/><ellipse cx="72.5" cy="-48.4" rx="72.5" ry="96.7" transform="rotate(30 72.5 -48.4)" fill="url(#gn)" opacity=".85"/><ellipse cx="-7.3" cy="-23.4" rx="41.1" ry="65.3" fill="url(#gp)" opacity=".58"/><ellipse cx="48.4" cy="58" rx="53.2" ry="58" fill="url(#gn)" opacity=".92"/></g><path class="ct" d="M84 -63.9 80 -66.1 76 -66.6 71 -65.5 67 -63.2 63 -59.5 59.9 -55 57.9 -50 57.1 -44 57.8 -39 59.7 -35 63 -31.9 67 -30.5 71 -30.5 76 -32.1 80.2 -35 84 -39.3M52.5 84 58 80.8 63 75 65.8 68 66.4 64 66.3 60 65.5 56 64 52 62.3 49 60 46.3 57 43.9 54 42.4 51 41.5 48 41.2 42 42.5 36.3 46 32 51 28.5 58 26.1 65 24.6 75 25.4 78 26.5 80 28.4 82 31.6 84M84 -81.6 78 -81.9 71 -80.4 64 -76.8 57 -71 52 -64.6 48 -57 45.5 -49 44.6 -41 45.4 -33 48 -26 52 -20.7 57 -17.2 63 -15.4 70 -15.4 77 -17.5 84 -21.6M79.7 84 81 77 80.2 68 77.2 57 73.4 49 68.5 42 62 36.1 56 33.2 49 32 41.5 33 34 36.3 26.7 42 15 52.9 13 54.5 8 56.9 4 58.1 -5 59.7 -18 60.4 -32 61.7 -46 63.7 -55 65.6 -65 68.5 -73.9 72 -81 76 -82.4 77 -84 79.2M51.5 -84 45.6 -77 41 -69.6 37 -60.5 34.4 -51 33.2 -42 33.3 -33 34.3 -25 36.8 -17 40.2 -11 45 -5.4 50.9 -1 57 1.5 65 1.9 71 1.1 76 -.5 84 -4.6M84 41.3 75.6 32 65 23.1 58 20.3 53 19.4 49 19.4 43 20.3 37 22.5 29 26.7 21 32.4 13 37.1 7 39.9 -3 42.9 -46 46.3 -69 52 -84 54.7M23 -84 21.5 -71 22.1 -39 23.5 -6 22.6 2 21.1 8 19.2 11 15 16 7.4 23 4 24.7 -1 26.1 -7 27.2 -15 27.7 -35 27 -68 36.7 -77 38.6 -84 39.2M-56.2 -84 -40 -78.4 -32 -74.5 -23 -74 -16 -72.8 -10 -71 -4 -68.4 1 -64.6 5 -58.8 8.6 -52 10.7 -46 12.5 -39 13.5 -31 13.8 -22 13.2 -15 11.8 -8 9.5 -2 5 4.9 1 9 -3 10.9 -8 12.2 -13 12.1 -20 10.5 -29 7 -32 6.6 -39 6.9 -44 8.3 -59.6 18 -67 21.7 -76 24.8 -84 25.6M-84 -72.6 -78 -72.5 -72 -70.7 -65 -66.7 -59.3 -62 -51.7 -53 -48.7 -48 -46.7 -44 -44.3 -37 -44 -34 -44.6 -27 -46.4 -23 -53.4 -9 -59.2 -1 -65 5.2 -71.4 10 -78 12.7 -84 13.3M-9 -1 -13 -1.7 -16 -3.1 -19.7 -6 -22.3 -9 -28.6 -20 -30.1 -25 -31 -31 -30.6 -34 -29.4 -37 -22.9 -45 -17.5 -49 -15 -50 -12 -50.6 -8 -50.2 -5 -49.2 -3 -47.8 0 -44.4 2.1 -41 4 -36.5 5.2 -32 5.9 -27 5.9 -22 5.2 -17 4 -12.7 2 -8.3 0 -5.5 -3 -2.7 -6 -1.4 -9 -1M-84 -58.6 -80 -58.3 -76 -56.8 -72.2 -54 -69 -50.4 -66.4 -46 -64.4 -41 -63.3 -36 -62.8 -30 -63.2 -24 -64.5 -18 -66.5 -13 -69.3 -8 -72.6 -4 -76 -1.4 -80 .4 -84 .9M-7 -20.9 -8 -20.4 -10 -20.8 -11 -22.9 -10.9 -26 -10 -27.9 -9 -28.6 -8 -28.8 -7 -28.1 -6.2 -26 -6 -23 -7 -20.9"/></g>
<use href="#hd"/></g>
<g transform="translate(2342.4 111.5)">
<g clip-path="url(#cp)"><g filter="url(#cm)"><circle r="83.6" fill="rgb(128,128,128)"/><ellipse cx="80.6" cy="0" rx="77.4" ry="193.4" fill="url(#gp)" opacity=".55"/><ellipse cx="76.6" cy="-44.3" rx="72.5" ry="120.9" transform="rotate(-20 76.6 -44.3)" fill="url(#gp)" opacity="1"/><ellipse cx="-16.1" cy="-40.3" rx="67.7" ry="101.6" fill="url(#gn)" opacity=".48"/><ellipse cx="-44.3" cy="12.1" rx="67.7" ry="77.4" fill="url(#gn)" opacity=".38"/><ellipse cx="-84.6" cy="-28.2" rx="36.3" ry="72.5" fill="url(#gp)" opacity=".5"/><ellipse cx="38.7" cy="50.8" rx="41.1" ry="41.1" fill="url(#gn)" opacity=".3"/></g><path class="ct" d="M-37.2 30 -33 28.2 -29.8 26 -25 21.6 -19.9 15 -2 -12 1.3 -19 3.8 -27 4.7 -34 4.3 -43 3.3 -50 1.2 -57 -1.6 -63 -4 -66.2 -8 -69.5 -13 -71.6 -16 -71.9 -19 -71.6 -24 -69.6 -29 -65.3 -33.6 -59 -37.7 -49 -43.3 -27 -46.4 -20 -49 -15.8 -54.9 -3 -57.8 6 -58.6 12 -58.3 19 -57.9 21 -55.2 25 -51.7 28 -47 30.1 -42 30.8 -37.2 30M-38.6 -84 -42 -79.6 -45.3 -74 -51.5 -59 -56.5 -31 -59.2 -21 -69.7 10 -71.5 19 -72 24 -71.6 29 -69.3 37 -65 41.9 -60 45.7 -55 48.1 -50 49.6 -43 50.5 -35 49.8 -29 47.9 -20.6 43 -14.7 38 -6 28 3 15 9 2.3 12.7 -7 14 -15 15.4 -32 15.5 -39 14.6 -49 12.7 -60 10 -70.4 7.1 -77 3.1 -84M38.5 63 43 60.4 45.3 57 46.4 53 45.9 48 43.7 44 40 40.8 36 39.5 31 39.9 27 42.2 24.2 46 23.2 50 23.7 55 25.8 59 29.1 62 34 63.6 36 63.6 38.5 63M40.5 84 43.7 78 49 70.8 52.3 65 54.4 58 54.7 51 53.1 45 50 39.3 44 32.6 33.3 24 29.7 18 27.6 12 26.6 -22 25.6 -36 20.4 -84M-84 -79.7 -80 -78.8 -78 -77.5 -74 -72.4 -70 -65.7 -67.9 -60 -66.6 -54 -65.6 -47 -65.1 -38 -66.1 -25 -68.1 -16 -70.3 -9 -73.3 -2 -77 4.8 -80 8.6 -84 12.2M79.7 84 77 83.6 74 82.4 70 79.7 68.5 78 65.8 71 63.4 55 60 43.1 56 35 47 21 42.2 10 35.5 -28 32.7 -51 31.8 -69 32.9 -84M-84 -57.8 -82 -57.3 -79 -55.1 -75.6 -50 -72.9 -42 -71.8 -32 -72.8 -22 -75.5 -13 -79.5 -6 -82 -3.7 -84 -2.7M84 51.7 80 52 78 50.6 73 45.4 69 39.4 60.3 24 55.1 13 48.2 -8 42.2 -35 39.9 -53 39.7 -61 40.1 -69 41.4 -77 43.2 -84M84 24.5 80 24.2 77 22.8 73 19.3 69 14.4 64 5.4 59 -5.4 54.4 -17 51 -27.6 48.9 -37 47.6 -46 47 -55 47.3 -63 48.3 -70 49.9 -75 52.6 -80 55.9 -84M84 -.8 80 -1.2 74.1 -5 69 -11 65 -17.4 60.8 -26 57.4 -36 55.5 -45 55 -53 55.6 -60 57.3 -66 60 -70.7 64 -74.3 69 -76.1 74 -75.8 79 -73.9 84 -70.5"/></g>
<use href="#hd"/></g>
<g transform="translate(92.5 347.6)">
<g clip-path="url(#cp)"><g filter="url(#cm)"><circle r="83.6" fill="rgb(108,108,108)"/><ellipse cx="0" cy="8.1" rx="133" ry="133" fill="url(#gp)" opacity=".12"/><ellipse cx="-14.5" cy="74.2" rx="72.5" ry="72.5" fill="url(#gp)" opacity=".3"/><ellipse cx="-13.7" cy="76.6" rx="65.3" ry="72.5" fill="url(#gp)" opacity="1"/></g><path class="ct" d="M-61.2 84 -62 73 -61.6 66 -60.5 60 -56.6 48 -53.7 42 -50 36 -46 30.8 -41.4 26 -30.7 17 -21 11.4 -14 9.4 -9 8.8 0 9.7 5 11.5 9.9 14 17.8 21 24 30 30.9 45 34.3 57 35.4 70 35.2 76 34.1 84M-53.1 84 -54 74 -52.8 64 -49.9 55 -44.8 46 -38 38.4 -30 32.7 -22 29.4 -17 28.4 -12 28 -8 28.2 -3 29.3 4 32.2 8 34.7 12 38 18 45 22.9 54 25.9 64 26.8 74 25.7 84M-47.1 84 -48.1 76 -47.3 67 -44.9 59 -40.3 51 -34.9 45 -28 40.2 -21 37.4 -13 36.4 -5 37.5 2 40.4 8.3 45 13.5 51 17.8 59 20.1 67 20.7 76 19.7 84M-42 84 -43 77 -42.4 69 -40.3 62 -37 55.9 -32 50.2 -26 46 -20 43.7 -13 42.9 -6 43.9 0 46.5 5.8 51 9.9 56 13 62 15 69 15.5 77 14.5 84M-37 84 -38.1 78 -37.9 72 -36.5 66 -33.5 60 -30 55.7 -25 51.8 -20 49.7 -14 48.7 -8 49.4 -3 51.4 2 55 6 59.7 8.7 65 10.3 71 10.6 78 9.5 84M-31.6 84 -32.9 79 -33 74 -32 69 -29.7 64 -26.5 60 -23 57.3 -19 55.5 -14 54.6 -9 55.3 -5 56.9 -1 59.9 2.3 64 4.5 69 5.5 74 5.4 79 4.2 84M-25 84 -26.3 81 -27 77 -26.6 73 -25.2 69 -23.2 66 -21 64 -18 62.4 -14 61.6 -10 62.2 -7 63.6 -4.3 66 -2.2 69 -.8 73 -.5 77 -1.2 81 -2.5 84"/></g>
<use href="#hd"/></g>
<g transform="translate(317.4 347.6)">
<g clip-path="url(#cp)"><g filter="url(#cm)"><circle r="83.6" fill="rgb(143,143,143)"/><ellipse cx="-4" cy="-40.3" rx="120.9" ry="72.5" fill="url(#gp)" opacity=".1"/><ellipse cx="0" cy="12.1" rx="108.8" ry="72.5" fill="url(#gn)" opacity=".1"/><ellipse cx="-68.5" cy="32.2" rx="48.4" ry="72.5" fill="url(#gp)" opacity=".1"/><ellipse cx="20.1" cy="80.6" rx="120.9" ry="77.4" fill="url(#gn)" opacity=".35"/><ellipse cx="22.6" cy="79" rx="72.5" ry="67.7" fill="url(#gn)" opacity=".8"/><ellipse cx="22.6" cy="80.6" rx="87" ry="82.2" fill="url(#gn)" opacity=".8"/></g><path class="ct" d="M46.1 84 46.6 79 45.7 74 44 70 41 65.8 37 62.3 32.9 60 28 58.4 22 57.8 17 58.3 12 59.9 7 62.8 3.6 66 .8 70 -1 74.2 -1.8 79 -1.4 84M54.6 84 54.8 78 53.6 72 50.9 66 47 60.9 42 56.6 36 53.3 29 51.1 22 50.4 15 51.2 9 53 3 56.3 -2.5 61 -6.3 66 -9.1 72 -10.2 78 -10 84M61.4 84 61.6 77 60 69.9 56.7 63 52 57 46 51.9 39 48 31 45.3 22 44.4 14 45.1 6 47.5 -1 51.3 -7 56.3 -12 62.5 -15.3 69 -17 76 -17 84M68.1 84 68 75.2 65.8 67 62 59.7 56 52.5 48 46.2 40 42 31 39.3 21 38.3 12 39.2 3.2 42 -5 46.5 -12 52.3 -18.1 60 -22 67.9 -23.9 76 -23.9 84M75.5 84 75.7 79 75.2 74 72.6 65 67.7 56 60.8 48 52 41.1 41 35.4 30 32.1 20 31.2 10 32.1 .8 35 -9 40.5 -17 47.2 -24 55.9 -28.8 65 -30.4 70 -31.4 75 -31.5 84M84 69.5 82.2 64 79.8 59 73.2 49 65.7 41 56 33.6 45 27.4 34 23.3 22 20.7 15 20.3 10 20.6 1 22.6 -4 24.6 -10 27.9 -17 33.3 -25.3 42 -33 53 -38.5 64 -41.1 74 -41.5 84M84 39.6 73.4 29 58 16 47.4 9 34 3 22 -.5 5 -2.8 -7 -2.4 -18.5 0 -23.4 2 -26 4 -28.6 7 -31.8 13 -36.4 24 -43.3 43 -55.3 69 -57.9 78 -58.5 84"/></g>
<use href="#hd"/></g>
<g transform="translate(542.5 347.6)">
<g clip-path="url(#cp)"><g filter="url(#cm)"><circle r="83.6" fill="rgb(176,176,176)"/><ellipse cx="-60.4" cy="-48.4" rx="72.5" ry="72.5" fill="url(#gp)" opacity=".2"/><ellipse cx="0" cy="-20.1" rx="108.8" ry="96.7" fill="url(#gn)" opacity=".12"/><ellipse cx="-8.1" cy="44.3" rx="193.4" ry="96.7" fill="url(#gn)" opacity=".3"/><ellipse cx="-28.2" cy="46.7" rx="101.6" ry="96.7" fill="url(#gn)" opacity=".45"/><ellipse cx="12.1" cy="64.5" rx="96.7" ry="60.4" fill="url(#gn)" opacity=".2"/><ellipse cx="-25" cy="42.7" rx="33.9" ry="45.9" transform="rotate(-15 -25 42.7)" fill="url(#gn)" opacity=".9"/></g><path class="ct" d="M-20.6 57 -17 54.9 -14.5 51 -13.5 46 -14.5 40 -17 35 -21 31.2 -25 29.6 -29 30 -32.3 32 -33.9 34 -35 36.5 -35.9 42 -35 47 -32.5 52 -29 55.4 -25 57.2 -20.6 57M-19.8 65 -17 64.4 -13.9 63 -11 60.8 -8.8 58 -7.3 55 -6.3 51 -6.1 47 -6.7 43 -9.8 35 -13 30.3 -16 27.3 -19.5 25 -23 23.6 -27 23 -30 23.4 -33 24.5 -36 26.7 -38.1 29 -39.9 32 -41.1 35 -41.9 39 -41.5 47 -40.3 51 -38.3 55 -36 58.1 -33 61 -30 63 -27 64.3 -23 65.1 -19.8 65M-14.2 72 -9 70.4 -4 67.7 -.5 65 3.1 61 4.4 59 5.7 55 5.9 50 5 46 1.5 38 -1.8 33 -5.8 28 -12 22.4 -17 19.3 -22 17.5 -28 16.9 -33 17.8 -37 19.7 -41.2 23 -44.5 27 -47.2 32 -48.7 37 -49.5 43 -49.1 48 -47.8 53 -45.4 58 -42.5 62 -38.4 66 -34 68.9 -29 71.2 -24 72.4 -19 72.6 -14.2 72M-9.6 80 -3 78.4 9.8 74 17 70 20.9 67 24.1 63 26.1 58 26.3 52 24.6 46 19.8 38 14.8 32 0 19.7 -6 15.8 -14 12 -21 10.2 -29 9.9 -33 10.6 -37 11.9 -42 14.5 -48 19.2 -54 26 -56.9 31 -59.1 37 -60.5 45 -60.1 51 -58.5 56 -55.1 62 -49.8 68 -45 72.2 -38.7 76 -32 78.7 -24 80.4 -17 80.7 -9.6 80M15.2 84 24 80.5 30.4 77 36.9 72 41.2 67 43.9 62 45.4 56 44.9 49 43 43 39.7 37 31.8 27 21.3 17 12 9.8 4 5.4 -5 2.1 -13 .7 -24 .1 -32.1 1 -41 3.8 -48 7.5 -57 14 -63 19 -68.3 25 -72 31.1 -74.5 38 -75.4 44 -75 51.1 -73.1 58 -70 64 -65.4 70 -60 75.2 -53 80.1 -45.2 84M44.7 84 51.9 79 56.4 75 60.6 70 63.7 65 65.9 59 67.1 52 66.8 46 65.3 40 62.5 34 57.8 27 45 13.1 23.4 -7 16 -12.7 9 -16.8 0 -19.4 -9 -19.8 -18 -18.1 -30 -14.2 -50 -5.3 -63 1.7 -75.6 11 -84 19.5M84 5.7 67.6 -8 56 -21 44.8 -36 38.9 -42 32 -47.3 22 -53 16 -55.6 11 -57 0 -56.8 -7 -54.6 -24 -44.3 -36.7 -33 -47.9 -25 -55 -21 -63.7 -17 -84 -8.6"/></g>
<use href="#hd"/></g>
<g transform="translate(767.5 347.6)">
<g clip-path="url(#cp)"><g filter="url(#cm)"><circle r="83.6" fill="rgb(92,92,92)"/><ellipse cx="24.2" cy="48.4" rx="96.7" ry="96.7" fill="url(#gp)" opacity=".23"/><ellipse cx="-40.3" cy="64.5" rx="96.7" ry="72.5" fill="url(#gp)" opacity=".1"/><ellipse cx="-24.2" cy="-40.3" rx="84.6" ry="84.6" fill="url(#gn)" opacity=".22"/><ellipse cx="44.3" cy="-64.5" rx="72.5" ry="48.4" fill="url(#gn)" opacity=".15"/><ellipse cx="32.2" cy="9.7" rx="72.5" ry="75" fill="url(#gp)" opacity=".64"/><ellipse cx="31.4" cy="5.2" rx="33.9" ry="33.9" fill="url(#gp)" opacity=".95"/></g><path class="ct" d="M-84 29.6 -78 25.8 -69 23.8 -60.8 20 -40 14.8 -34.1 8 -28 2.6 -20 -6.1 -10.2 -18 -1 -28 9 -37 13 -39.7 18 -42.2 25 -44.1 34 -44.9 46 -44.2 60 -42.2 66 -40.7 75 -37.5 79 -35.5 84 -31.7M26 81.1 17 81.1 7 79.3 -8 74.1 -15.9 70 -20.3 66 -22.8 62 -23.9 54 -23.9 50 -23 45 -20.5 39 -12.1 9 -6.7 -3 -.1 -13 4 -17.7 8.6 -22 13 -25.2 18 -28 23.1 -30 28 -31.1 33 -31.7 39 -31.4 48 -29.3 56 -25.4 62.8 -20 67.7 -14 71.6 -7 75 3 76.3 13 76 22 74.2 32 69.6 45 66 52 58.3 63 50 71.3 43.2 76 35 79.4 26 81.1M30 59.1 22 59.3 16.4 58 10 54.7 5.1 50 1.7 45 -.4 40 -2.6 29 -2.9 20 -1.6 9 0 2 3.7 -6 8 -11.9 14 -17.4 20 -21 27 -23.2 35 -23.7 42 -22.4 48 -19.8 53.5 -16 58 -11.2 61.2 -6 63.9 1 65.2 8 65.4 16 64.4 23 62.3 30 58.4 38 54.2 44 49 49.4 42 54.7 37 57.3 30 59.1M32 43.1 27 43.1 21 41.6 17 39.1 13.6 36 9 29 7 24.6 5.5 19 4.9 12 5.5 6 7.2 0 9.7 -5 13 -9.4 17 -13 22 -15.9 27 -17.5 32 -18.1 37 -17.6 42 -16.1 47 -13.3 50.7 -10 53.8 -6 56.4 -1 58 4.7 58.5 10 57.9 16 56.7 21 54.5 26 51.2 31 47 35.3 42 39.2 38 41.4 32 43.1M33 32.1 29 32.1 25 31.2 21 29.2 18 26.7 15 23.2 13 19.6 11.4 15 10.7 10 11 5 12.1 1 13.9 -3 16 -6 19.1 -9 23 -11.5 27 -12.9 31 -13.5 35 -13.3 39 -12.2 43 -10.2 45.7 -8 48.4 -5 50.7 -1 52.1 3 52.7 7 52.4 12 51.5 16 49.8 20 47.2 24 44 27.2 40 29.9 37 31.2 33 32.1M34 24.1 31 24.3 28 23.9 25 22.8 22 20.9 20 19 17.9 16 16.6 13 15.7 9 16.1 3 17.2 0 19 -3 21 -5.2 24 -7.3 27 -8.6 30 -9.3 36 -8.7 41.3 -6 43.5 -4 45.6 -1 46.9 2 47.5 5 47.2 11 45.8 15 44 17.9 39.4 22 34 24.1M34 17.1 30 17.2 26 15.7 23 13 21.1 9 20.8 5 22.1 1 25 -2.5 29 -4.4 33 -4.6 37.4 -3 40.4 0 42.1 4 42.2 8 40.7 12 38 15.1 34 17.1"/></g>
<use href="#hd"/></g>
<g transform="translate(992.5 347.6)">
<g clip-path="url(#cp)"><g filter="url(#cm)"><circle r="83.6" fill="rgb(105,105,105)"/><ellipse cx="16.1" cy="8.1" rx="120.9" ry="145.1" fill="url(#gp)" opacity=".15"/><ellipse cx="-64.5" cy="-40.3" rx="84.6" ry="84.6" fill="url(#gn)" opacity=".24"/><ellipse cx="20.1" cy="72.5" rx="60.4" ry="60.4" fill="url(#gp)" opacity=".3"/><ellipse cx="24.2" cy="40.3" rx="62.9" ry="62.9" fill="url(#gp)" opacity=".55"/><ellipse cx="22.6" cy="35.9" rx="24.2" ry="26.6" fill="url(#gp)" opacity=".85"/></g><path class="ct" d="M-84 9.9 -75 10.1 -67 8.3 -62 6.5 -55 2.7 -48 -2.9 -43 -7.7 -37.4 -15 -32.6 -23 -28.8 -32 -26.1 -42 -25.3 -50 -25.5 -59 -26.5 -65 -28.7 -72 -33.9 -81 -36.4 -84M-12.1 84 -15.8 77 -18.4 70 -21 61 -23 51 -24.1 42 -24.2 35 -22.9 25 -21.3 18 -19.1 12 -14.3 2 -10.6 -4 -5.8 -10 -1 -14.7 3 -17.9 13 -23.8 19 -26.1 25 -24.5 36 -19.7 41.8 -16 46.5 -12 51.7 -6 58.6 4 62 10.8 65.4 20 67 26.7 67.7 33 67.9 42 67 50 65.2 58 62.4 66 57.4 77 53.1 84M4.3 84 .7 80 -2 75.8 -5.5 68 -7 63 -8.7 55 -9.8 47 -9.8 40 -8.8 32 -7 26 -4 20 0 14.8 3.8 11 8 8.1 13 5.8 18 4.6 23 4.2 28 4.8 34 6.6 38.6 9 43 12.3 47 16.5 50.7 22 53.5 28 54.9 33 55.6 39 55.4 46 53.9 54 52.1 60 48 69.1 45.3 74 40.9 80 37 84M25 78 20 78.7 16 77.8 11 74.8 7.6 71 5.1 67 1.9 59 .3 52 -.5 44 -.5 39 .5 33 2.3 28 5 23.5 9 19.3 13 16.6 18 14.7 22 14.2 27 14.5 31 15.7 35 17.8 39 21 42.3 25 44.9 30 46.3 35 46.9 40 46.7 46 45.5 52 43.2 58 40.2 64 36 70 33 73.3 29 76.3 25 78M24 63 22 63.2 19 62.6 15 60.3 12 57.3 9.8 54 7.5 49 5.8 41 5.9 37 6.7 33 7.8 30 10 26.3 12 24 15 21.8 18 20.4 22 19.6 26 20 29 20.9 32 22.6 34.7 25 37.7 29 39 31.9 39.9 35 40.4 39 40.1 43 39.3 47 35.9 54 33 57.6 30 60.2 24 63M25 52 22 52.2 20 51.8 16 49.6 12.3 45 10.7 40 11 34 13 29.2 16.1 26 18 24.9 21 23.9 26 24.3 30 26.4 33.6 31 35.1 36 34.9 41 32.9 46 29.3 50 25 52M25 45.3 22 45.6 19 44.5 16.4 42 15.1 39 14.9 35 16 32 18 29.6 21 28.1 24 28 27 29.3 29.4 32 30.4 35 30.5 38 29.7 41 28 43.4 25 45.3"/></g>
<use href="#hd"/></g>
<g transform="translate(1217.5 347.6)">
<g clip-path="url(#cp)"><g filter="url(#cm)"><circle r="83.6" fill="rgb(128,128,128)"/><ellipse cx="-88.7" cy="0" rx="84.6" ry="169.3" fill="url(#gp)" opacity=".55"/><ellipse cx="0" cy="84.6" rx="169.3" ry="72.5" fill="url(#gn)" opacity=".3"/><ellipse cx="88.7" cy="4" rx="67.7" ry="120.9" fill="url(#gp)" opacity=".6"/><ellipse cx="8.1" cy="-80.6" rx="169.3" ry="84.6" fill="url(#gp)" opacity=".68"/><ellipse cx="25" cy="-43.5" rx="36.3" ry="84.6" transform="rotate(-33 25 -43.5)" fill="url(#gp)" opacity=".9"/><ellipse cx="-6.4" cy="16.1" rx="72.5" ry="79.8" fill="url(#gn)" opacity=".5"/><ellipse cx="-16.1" cy="44.3" rx="60.4" ry="48.4" fill="url(#gn)" opacity=".3"/><ellipse cx="43.5" cy="58" rx="43.5" ry="43.5" fill="url(#gn)" opacity=".55"/></g><path class="ct" d="M-9.1 60 -6 59.1 -3 57.6 2.8 53 4.6 51 8.2 44 9.7 39 10.5 34 11.2 23 11 19 10 14.1 8.5 10 6.3 6 4 3.5 0 1.1 -4 -.1 -9 .3 -13 1.8 -16 3.8 -18.8 7 -21.1 11 -24.4 19 -27.1 29 -28.5 37 -28.6 42 -27.9 46 -26 50.6 -24 53.7 -21 56.4 -17 58.6 -13 59.8 -9.1 60M44 75 49 72.7 53 68.4 55 63 55.2 60 54.9 57 52.8 52 51 49.7 48.9 48 46 46.5 43 45.6 37 45.5 31.1 48 26.8 52 25.3 55 24.7 58 24.9 64 26 67.2 27.6 70 30 72.6 33 74.6 38 75.7 44 75M54.9 84 59.7 76 62 67 62.1 62 61.4 57 60.1 53 58 49 54 44 48 39.6 42 37.2 33 34.6 29.2 32 27.8 30 26.4 26 23.4 10 21 4.2 18.9 1 13 -5.8 7 -10.6 1 -13.7 -5 -14.6 -10 -14 -14 -13 -18 -11.3 -21 -9.3 -25 -5.6 -28.6 -1 -30.4 2 -32.4 7 -37.9 29 -39.7 41 -39.8 50 -37.6 67 -37.5 72 -38.2 78 -37.5 84M77.3 84 72.8 73 67.9 56 64.8 49 58 39.3 47.2 29 41.3 22 37.1 15 34 7 31.1 2 21.1 -10 11 -18.7 6 -22.1 1 -24.7 -5 -26.5 -8 -27 -19 -25.1 -26 -21.9 -29 -19.8 -32.9 -16 -37 -9.6 -40 -2.9 -42.3 5 -51 49.8 -52.9 58 -58.6 71 -66.2 84M84 61.9 80 58.6 76 53.7 56.1 24 50.6 15 48.9 11 45.2 5 43 2.5 14.1 -24 4 -32 -2 -35.3 -6 -36.8 -15 -38.5 -27 -37.1 -33.6 -35 -40.9 -30 -43.8 -26 -46 -22 -48.6 -15 -51.6 -2 -54.8 19 -58.3 34 -61.4 44 -65.7 53 -70 59.1 -72.7 62 -76 64.7 -84 69.8M84 44.5 79.8 41 75.3 36 66 22.1 64.3 18 59.3 0 55 -5 43 -8.5 34 -13.4 25 -20.5 2 -41.1 -7 -46.9 -20 -50.9 -31 -51.9 -38 -51.9 -46 -50.7 -50 -49.5 -54 -47.1 -57.3 -43 -60 -36 -61.5 -28 -64.4 9 -65.1 16 -66.1 20 -70.3 32 -75 41.4 -79 45 -84 47.7M62.5 -29 65 -30.8 65.7 -32 67 -35.4 69 -38 69.6 -42 68.8 -45 65.4 -49 64 -49.8 63 -49.8 58.2 -46 56.8 -42 56.8 -37 59.2 -31 61 -29.1 62.5 -29M49.4 -84 50.3 -81 50 -77.3 47 -70.4 43.4 -64 42.4 -61 42 -57 42.7 -50 45.1 -40 46.3 -33 46.3 -25 45.4 -22 44 -20 42 -19 40 -18.7 38 -18.8 35 -19.7 28 -23.8 19 -31.5 3 -48.2 -4 -54.7 -9 -58.2 -22 -64.7 -30.8 -71 -33.6 -74 -35.1 -77 -35.5 -81 -34.7 -84M-84 -17 -81.5 -11 -80.3 -5 -79.9 0 -81 8.3 -82.3 12 -84 14.8M84 23.4 80.9 20 78 14 76.6 9 76.2 4 76.6 -1 78 -7 81 -13.6 84 -17M19.1 -84 22 -81.5 24.1 -78 37 -44 38.3 -38 38.5 -33 37.7 -30 36.9 -29 35 -28.2 33 -28.1 30 -29 25 -32.2 18.9 -38 11.5 -47 -3.7 -68 -5.9 -72 -7.6 -76 -8.2 -79 -7.7 -82 -6.5 -84"/></g>
<use href="#hd"/></g>
<g transform="translate(1442.5 347.6)">
<g clip-path="url(#cp)"><g filter="url(#cm)"><circle r="83.6" fill="rgb(204,204,204)"/><ellipse cx="-60.4" cy="-56.4" rx="72.5" ry="72.5" fill="url(#gp)" opacity=".3"/><ellipse cx="60.4" cy="-56.4" rx="72.5" ry="72.5" fill="url(#gp)" opacity=".3"/><ellipse cx="4" cy="8.1" rx="133" ry="120.9" fill="url(#gn)" opacity=".35"/><ellipse cx="-28.2" cy="-28.2" rx="48.4" ry="60.4" fill="url(#gn)" opacity=".3"/><ellipse cx="28.2" cy="-24.2" rx="48.4" ry="53.2" fill="url(#gn)" opacity=".25"/><ellipse cx="20.1" cy="64.5" rx="48.4" ry="72.5" fill="url(#gn)" opacity=".5"/><ellipse cx="44.3" cy="56.4" rx="43.5" ry="60.4" fill="url(#gn)" opacity=".6"/><ellipse cx="1.6" cy="10.5" rx="72.5" ry="65.3" fill="url(#gn)" opacity=".65"/><ellipse cx="0" cy="9.7" rx="38.7" ry="33.9" fill="url(#gn)" opacity=".85"/><ellipse cx="42.7" cy="49.2" rx="19.3" ry="24.2" fill="url(#gn)" opacity=".7"/></g><path class="ct" d="M5.1 23 8.1 22 11 20.3 13 18.5 14.7 16 15.8 13 16.1 10 15.8 7 14.7 4 11 -.4 5.8 -3 2 -3.7 -1 -3.7 -7 -2 -11.1 1 -13.7 5 -14.5 10 -13.2 15 -10.2 19 -6 21.8 0 23.4 5.1 23M44.5 57 46 55.7 47.5 53 47.9 50 47.7 48 46.9 46 45 43.9 43 43 41 43.1 39 44.2 37.1 47 36.5 50 36.8 53 38 55.4 40 57.1 42 57.6 44.5 57M7.6 31 12 30.2 16 28.4 19.7 25 22.2 21 24 15.6 24.5 10 23.8 5 22 0 20 -3.1 17 -6 13 -8.5 8.4 -10 4 -10.7 -2 -10.6 -7 -9.8 -11.7 -8 -15 -5.8 -17.7 -3 -19.6 0 -20.8 3 -21.6 7 -21.6 10 -20.9 14 -19.7 17 -15.5 23 -13 25.2 -9 27.6 -1 30.4 7.6 31M44.3 65 48 62.3 50.7 58 52 53 51.8 48 50 43 47.6 40 44 37.9 40 37.5 35.8 39 31.7 43 28.4 50 27.8 56 28.6 59 29.8 61 33.4 64 36 65.2 39 65.8 42 65.8 44.3 65M32.1 76 38 75.1 43 73.6 47 71.6 50 69 52.8 65 54.5 61 55.6 56 55.8 51 55.3 47 54.2 43 50.6 37 46 33 37 28.7 35 27.4 34 26 32.5 4 30.2 -5 27.6 -11 25 -14.2 22 -16.4 18 -17.9 14 -18.5 2 -18.6 -11.6 -18 -16 -17.3 -20 -15.7 -23 -13.4 -25 -10.6 -27 -5.8 -28.4 0 -28.9 5 -28.5 11 -27.3 16 -25 21 -20.4 27 -15 31.5 -9 35.1 2 40.1 6.3 43 8.9 48 12.1 65 13.8 69 16 72 19 74.4 22 75.9 26 76.4 32.1 76M36 84 43 81.6 47 79.5 50.4 77 54 73.2 56.6 69 58.5 64 59.7 59 60.1 53 59.3 45 57 38 54 32.5 47.6 24 44.1 16 40.7 -3 39.8 -13 38.3 -19 36.6 -23 34 -26.6 31.2 -29 28 -30.6 25 -31.4 18 -31.2 4 -28.6 0 -28.4 -8 -29.8 -17 -33.5 -22 -34.9 -25 -34.9 -28 -34.4 -31 -32.7 -34 -29 -36 -24.8 -37.3 -19 -37.8 -10 -37.1 7 -36.2 13 -34.7 18 -31.3 25 -26.6 31 -20 36.9 -6 46.6 -2.9 50 .6 56 4.4 68 7 73.8 11.1 80 15.8 84M52.4 84 58.1 78 62.5 70 64.1 65 65.1 60 65.4 50 64.1 41 62.7 35 57 20 55.2 14 49.7 -17 47.3 -24 44.2 -30 41 -34.2 37 -37.8 33 -40.2 28 -42 21 -42.6 5 -40.8 0 -40.8 -5 -41.9 -19 -46.8 -24 -47.2 -28 -46.7 -34 -44.1 -38.8 -40 -43 -34 -45.8 -27 -47.9 -16 -48.3 -6 -47.8 6 -46.3 15 -43.3 24 -37.9 33 -34.7 37 -31 40.7 -15.1 53 -10.9 57 -8 61 1.6 80 4.1 84M63.7 84 68.9 74 71.7 66 73.6 55 73.9 44 71.3 16 69.1 6 68 -3.7 64.7 -14 58.2 -27 52 -36.1 45.9 -43 39 -48.5 32 -52.2 24 -54.3 5 -55.1 0 -55.8 -17 -59.7 -24 -60 -31 -58.3 -35 -56.4 -39 -53.7 -45.6 -47 -51.4 -38 -57.6 -24 -61 -13.2 -62.4 -7 -63.5 1 -63.3 11 -62.1 20 -59.8 28 -56.1 36 -51.5 43 -47 48.3 -42 53 -35.2 58 -28 62.1 -16 72.4 -12.6 77 -8.6 84"/></g>
<use href="#hd"/></g>
<g transform="translate(1667.5 347.6)">
<g clip-path="url(#cp)"><g filter="url(#cm)"><circle r="83.6" fill="rgb(134,134,134)"/><ellipse cx="8.1" cy="-8.1" rx="145.1" ry="133" fill="url(#gn)" opacity=".2"/><ellipse cx="-8.1" cy="84.6" rx="217.6" ry="72.5" transform="rotate(8 -8.1 84.6)" fill="url(#gp)" opacity=".7"/><ellipse cx="-80.6" cy="8.1" rx="48.4" ry="120.9" fill="url(#gp)" opacity=".3"/><ellipse cx="1.6" cy="-2.4" rx="77.4" ry="53.2" transform="rotate(25 1.6 -2.4)" fill="url(#gn)" opacity=".42"/><ellipse cx="-48.4" cy="44.3" rx="53.2" ry="84.6" fill="url(#gp)" opacity=".45"/><ellipse cx="-44.3" cy="36.3" rx="29" ry="58" transform="rotate(5 -44.3 36.3)" fill="url(#gp)" opacity=".9"/></g><path class="ct" d="M11.5 18 17 17.2 22 15.3 25 12.9 27.8 9 29.1 5 29.1 0 27.7 -5 25 -9.9 21.5 -14 17 -17.8 12 -20.7 6 -23.1 0 -24.3 -6 -24.5 -11 -23.8 -15.6 -22 -17.7 -20 -19.7 -17 -21 -14 -21.5 -11 -21 -7 -20 -3.4 -16.7 3 -13.7 7 -10 10.8 -5 14.1 2 17.3 7 18 11.5 18M18.3 30 27 28.9 36 25.6 44 20.7 47 16 48.5 12 49.4 7 49.5 2 48.9 -3 46.3 -12 43.7 -17 41 -21 34.5 -28 26 -34.2 18 -38.1 8 -41.1 -2 -42.2 -12 -41.5 -22 -39 -29.9 -35 -32.4 -32 -34.8 -28 -36.3 -24 -36.7 -21 -33.6 -13 -30.7 -7 -21.1 10 -16 17.6 -11.3 22 -8.3 24 1 28.2 4 29.2 8 29.7 18.3 30M-56.1 -84 -57.7 -76 -58.4 -65 -57.9 -49 -58.5 -39 -56.4 -25 -54.6 -18 -53.9 -16 -49.7 -12 -39 -4.8 -34 .3 -29.2 7 -20 24.2 -15 32 -8 36.6 4 40.7 22 42.9 37 43.5 50 43.1 58 42.5 64 41.4 76 40.6 84 39.4M-84 -26.3 -82 -26.6 -80 -26.3 -76 -24 -74 -22 -72 -18.9 -66 -5 -63.3 -1 -58 1.2 -47 .9 -44 1.3 -39 3.5 -36 5.9 -32.7 10 -29.2 16 -22.3 34 -20 38.7 -16 44 -13 45.9 -8 48.1 4 51.3 31 55.7 53 60.6 69 65.4 84 71.5M-84 43.9 -80.3 37 -76 30.7 -73 28.6 -69.3 24 -60 15.9 -54.9 12 -50 9.2 -46 8.2 -42 8.5 -39 9.9 -37 11.6 -33 17.2 -29.9 25 -26.3 40 -24 47 -22 50.5 -18 54.6 -9 58 23 65 40.1 70 48 73 56.4 77 61.4 80 66.6 84M-64.9 84 -69.1 79 -70.8 75 -71.3 71 -69.8 63 -66 52.3 -60.7 34 -56.3 24 -53.6 20 -50 16.5 -47 14.7 -44 14.2 -41 15 -38.3 17 -36 20 -34.2 24 -32.7 29 -31.7 35 -29.7 54 -27.9 59 -25 62.6 -21 65.5 -16 67.2 8.8 73 19 76.1 28 80 34 84M-45 68.3 -47 68.4 -49 67.5 -51 65.2 -52.6 62 -54.8 54 -55.4 44 -54.2 35 -51.8 28 -50 25 -48 22.8 -46 21.6 -44 21.1 -41 22.1 -38 26.1 -36.3 32 -35.7 39 -36.6 48 -39 57.8 -42.3 66 -45 68.3"/></g>
<use href="#hd"/></g>
<g transform="translate(1892.5 347.6)">
<g clip-path="url(#cp)"><g filter="url(#cm)"><circle r="83.6" fill="rgb(128,128,128)"/><ellipse cx="0" cy="88.7" rx="217.6" ry="72.5" fill="url(#gp)" opacity=".55"/><ellipse cx="90.3" cy="-16.1" rx="53.2" ry="145.1" fill="url(#gp)" opacity=".55"/><ellipse cx="-32.2" cy="0" rx="72.5" ry="84.6" fill="url(#gn)" opacity=".25"/><ellipse cx="-48.4" cy="-36.3" rx="72.5" ry="72.5" fill="url(#gn)" opacity=".55"/><ellipse cx="48.4" cy="-72.5" rx="72.5" ry="72.5" fill="url(#gp)" opacity=".2"/><ellipse cx="-88.7" cy="24.2" rx="48.4" ry="96.7" fill="url(#gp)" opacity=".45"/><ellipse cx="-64.5" cy="60.4" rx="72.5" ry="72.5" fill="url(#gp)" opacity=".35"/><ellipse cx="51.6" cy="57.2" rx="41.1" ry="41.1" fill="url(#gp)" opacity=".6"/><ellipse cx="-54.8" cy="-41.9" rx="38.7" ry="38.7" fill="url(#gn)" opacity=".8"/></g><path class="ct" d="M-49.4 -26 -47 -26.4 -44 -28 -40.4 -32 -38.8 -37 -39.1 -43 -41.5 -48 -43.2 -50 -46 -52.2 -51 -54.2 -54 -54.4 -57 -54 -61.3 -52 -64.9 -48 -66.6 -43 -66.3 -38 -64 -33.1 -60 -29 -55 -26.6 -49.4 -26M-40.3 -15 -36.6 -17 -33.4 -20 -31 -23.9 -29.5 -28 -28.8 -32 -28.7 -37 -29.9 -43 -31.4 -47 -33.9 -51 -37 -54.5 -41 -57.6 -45 -59.5 -49 -60.6 -54 -60.9 -58 -60.4 -62 -58.9 -65.1 -57 -68.1 -54 -70.2 -51 -71.9 -47 -72.6 -43 -72.6 -40 -71.9 -36 -70.3 -32 -68 -28.2 -64.4 -24 -61 -21 -56.3 -18 -51 -15.7 -46 -14.4 -44 -14.1 -40.3 -15M-30.6 4 -27 2.8 -23.4 0 -20 -6 -17.4 -14 -16.3 -23 -16.6 -31 -18.3 -41 -21 -48 -23.9 -53 -29 -58.9 -34 -62.7 -40 -65.9 -46 -67.6 -53 -68.1 -59 -67.2 -65 -65 -68.4 -63 -72.5 -59 -76 -54 -77.6 -50 -78.6 -45 -78.6 -40 -77.6 -35 -75.7 -30 -71.4 -23 -62 -12 -56 -6.5 -50 -1.9 -44 2.3 -41 3.9 -36 4.7 -30.6 4M-84 -31 -78.5 -22 -65.7 -5 -57 8.2 -52.9 13 -49 16.6 -41 21.8 -31 25 -22 25.5 -17 24.3 -13 22.5 -6 18 -4.1 16 -.3 7 2 -4.9 2.5 -16 1.5 -25 -1.7 -39 -5.9 -50 -11.7 -60 -18.7 -68 -25 -73.2 -34 -77.2 -39 -78.5 -46 -79.4 -55 -79.4 -64 -77.4 -69 -75.4 -73 -73.2 -78.3 -69 -84 -60.8M-84 -15.6 -79 -10 -74.6 -4 -62.6 18 -57 25 -51.1 30 -41 36.4 -34 40 -26 43.1 -19 44.7 -12 45.4 6 44.5 13 43.5 22 39.3 35 31.7 40 29.8 53 23.5 56.8 19 57.6 16 54.7 -12 52 -25 50 -30 46 -35 38 -41.7 33 -43.9 28.3 -47 22 -54 18.6 -61 16 -70 16.2 -77 18 -84M-84 .5 -80.7 4 -77.5 9 -68 28.3 -65 32.6 -61 37 -54 42.7 -42 51.1 -34 55.4 -23 59.3 -10 60.8 11 61.1 18 59.6 21 58.5 24 56.7 36.7 44 42 40.7 46 38.9 52 37.8 57 37.8 74.1 41 76.2 39 76.9 34 75.2 23 71.7 8 69.8 -7 69.1 -25 69 -57 70.4 -65 73.6 -71 76 -73.7 79 -76 84 -77.9M-84 26.7 -77 43 -74 47.6 -69 52.6 -45 69.7 -37 73.2 -26 75.6 -19 76 0 75.7 16 77.2 24 77.4 29 76.8 31.1 76 33.7 73 36.8 58 38.6 54 41 50.7 45 47.4 49 45.8 54 45.6 58 46.7 62 49.3 65.3 54 66.6 59 66.3 65 63.4 72 59.2 77 56 79.7 48.8 84"/></g>
<use href="#hd"/></g>
<g transform="translate(2117.4 347.6)">
<g clip-path="url(#cp)"><g filter="url(#cm)"><circle r="83.6" fill="rgb(134,134,134)"/><ellipse cx="-24.2" cy="-37.9" rx="169.3" ry="55.6" transform="rotate(-32 -24.2 -37.9)" fill="url(#gp)" opacity=".38"/><ellipse cx="-28.2" cy="-37.9" rx="36.3" ry="29" transform="rotate(-32 -28.2 -37.9)" fill="url(#gp)" opacity=".2"/><ellipse cx="48.4" cy="-68.5" rx="96.7" ry="60.4" fill="url(#gp)" opacity=".25"/><ellipse cx="-76.6" cy="8.1" rx="60.4" ry="72.5" fill="url(#gp)" opacity=".45"/><ellipse cx="-76.6" cy="-48.4" rx="60.4" ry="60.4" fill="url(#gn)" opacity=".4"/><ellipse cx="4" cy="56.4" rx="91.9" ry="77.4" fill="url(#gn)" opacity=".58"/><ellipse cx="43.1" cy="53.2" rx="33.9" ry="48.4" fill="url(#gn)" opacity=".9"/><ellipse cx="40.3" cy="12.1" rx="36.3" ry="36.3" fill="url(#gp)" opacity=".12"/></g><path class="ct" d="M45.1 65 48 62.8 50 59.4 51.1 55 50.8 50 49.4 46 47 43.2 44 41.7 41 41.7 38 43.1 34.6 47 33.3 51 33.3 56 35 60.9 37.8 64 41 65.5 43 65.6 45.1 65M42.7 72 45 71.4 48 69.9 52 65.5 54.7 59 55.2 52 54 45.6 50.8 40 48.6 38 46 36.6 41 35.9 38 36.5 35 37.9 29.9 42 25 49 23.4 55 24.3 59 25.8 62 31 67.7 34 69.9 37 71.3 40 72 42.7 72M5.7 57 5.8 56 4.4 55 3 55.2 2.3 56 2.4 57 4 57.9 5.7 57M44.3 78 50 75.1 54.6 70 57.9 63 59.2 56 58.8 48 56.7 41 53 35.5 48 32 43 30.8 38 31 33 32.1 24 35.2 21 35.7 12 35.3 5 34.4 -3 35.2 -9 37.3 -14 40.4 -18 44.5 -20.7 49 -21.9 53 -22.2 57 -21.6 61 -20.1 65 -18 68.4 -15 71.6 -11.8 74 -8 76 -3 77.7 3 78.5 8 78.2 14 77 23 76.1 28 76.7 37 78.6 41 78.6 44.3 78M-84 -36.5 -80 -36.1 -76 -36.5 -72 -37.7 -68 -39.9 -64.9 -43 -62.9 -46 -61.2 -50 -60.7 -54 -61.1 -58 -62.5 -62 -65 -65 -67 -66.6 -71 -68.6 -76 -69.8 -80 -69.5 -84 -68.5M48.8 84 54 80.3 58.4 75 61.9 68 63.7 61 64.3 53 63.4 45 61.6 39 58.2 33 56 30.6 53 28.3 47 25.9 40 25.2 27 25.3 16 23.5 10 21.7 4 21 -2 21.3 -7 22.2 -13 24 -18 26.2 -23.2 30 -28 34.7 -32 40 -34.6 45 -36.4 50 -37.3 55 -37.5 61 -36.8 65 -34.9 70 -31.8 75 -27.4 80 -22.4 84M-84 -27.5 -74 -28.6 -69.4 -30 -65 -32 -61 -34.9 -58 -37.9 -55.6 -41 -52.7 -46 -48.6 -57 -47.8 -61 -47.8 -67 -48.7 -72 -50.2 -76 -54 -80.9 -57.2 -84M66.9 84 70.6 77 73 70 74.5 63 75.2 55 74.7 47 73 38.3 70.8 32 67.2 26 63 21.9 57 19.2 53 18.4 39 17.7 32.1 16 25 12.2 20 6.7 15.9 3 12 2 6 1.7 -2.7 3 -16 7.1 -26 13.2 -30 16.4 -34.7 21 -40 27.5 -47.2 38 -52.3 47 -56.2 56 -58.4 64 -58.8 69 -58.6 77 -54.8 84M-84 -19.8 -74 -21.3 -67 -23 -62 -24.9 -57 -28 -53.7 -31 -51 -34.3 -37.3 -56 -33 -61.4 -21 -73.1 -4.3 -84M84 -60.9 81.1 -57 77.9 -54 73.8 -51 69 -48.4 58 -44.3 38 -39.2 26 -35.3 12.9 -29 -.4 -21 -18 -11.9 -24.3 -8 -32 -2.6 -38.5 4 -41.8 8 -55 28 -59 33 -63 36.9 -68 40.7 -72 42.8 -78 44.5 -84 45.2M-35 -18.9 -41 -18.4 -42.9 -19 -44 -21 -43.4 -26 -40.1 -36 -37 -42 -32 -48 -26 -52.5 -17 -57.4 -3 -63.4 15.4 -74 22 -76.8 27 -78.4 35 -79.7 43 -79.1 47 -77.4 50 -74.9 51.5 -73 51.4 -70 50.8 -68 48.4 -65 46 -63 40 -59.9 22 -53.4 12 -48.8 6 -45.3 1 -41.4 -10.7 -31 -17.4 -26 -26 -21.6 -35 -18.9M-84 -10.8 -75 -12.9 -63 -14.1 -54 -14.6 -50.6 -14 -49 -13 -50 -6 -55.4 8 -58.6 14 -62.8 20 -68 24.9 -73 27.8 -79 29.2 -82 29.3 -84 28.6"/></g>
<use href="#hd"/></g>
<g transform="translate(2342.4 347.6)">
<g clip-path="url(#cp)"><g filter="url(#cm)"><circle r="83.6" fill="rgb(128,128,128)"/><ellipse cx="-36.3" cy="-4" rx="101.6" ry="133" fill="url(#gn)" opacity=".55"/><ellipse cx="-48.4" cy="56.4" rx="72.5" ry="72.5" fill="url(#gn)" opacity=".4"/><ellipse cx="80.6" cy="-8.1" rx="108.8" ry="169.3" fill="url(#gp)" opacity=".52"/><ellipse cx="40.3" cy="64.5" rx="72.5" ry="60.4" fill="url(#gp)" opacity=".2"/><ellipse cx="-24.2" cy="-76.6" rx="120.9" ry="48.4" fill="url(#gp)" opacity=".15"/><ellipse cx="33.9" cy="24.2" rx="48.4" ry="33.9" transform="rotate(10 33.9 24.2)" fill="url(#gp)" opacity=".6"/><ellipse cx="14.5" cy="17.7" rx="21.8" ry="21.8" fill="url(#gp)" opacity=".9"/></g><path class="ct" d="M-40.4 74 -35 71.7 -30.1 68 -26.2 63 -21.9 55 -20.5 51 -14 26 -12.3 16 -10 6 -9.8 3 -10 -7.7 -10.8 -14 -12.6 -21 -15.6 -28 -20.4 -34 -25.1 -38 -29 -39.7 -35 -40.7 -43 -40 -47 -38.7 -51 -36.6 -55 -33.6 -58.5 -30 -62.3 -23 -64.3 -17 -66.7 -6 -67.7 19 -70.4 43 -70.3 51 -69.2 57 -66.6 63 -63 68 -58 72 -53 74.1 -47 75 -40.4 74M-24.7 84 -18.1 78 -14.5 73 -9.4 61 -3.4 43 -2.8 32 -4.2 23 -3.6 15 -2.6 11 -.6 6 3.3 -1 4.7 -6 3.9 -17 2.4 -27 .7 -33 -2 -38.8 -6.4 -45 -10 -48 -16.7 -52 -24 -54.9 -31 -56.1 -39 -56.6 -46 -56.3 -53 -55.2 -59 -53.6 -64 -51.4 -68.1 -49 -72.7 -45 -75.9 -41 -80.1 -34 -82.3 -28 -84 -21.3M3 84 4.8 66 8.8 51 8.8 44 8.2 39 3 29.7 1 25 .2 21 .3 16 1.8 11 5 6.1 17.2 -4 18.9 -10 18 -31 15.5 -44 13 -50.7 8 -56.8 5.5 -59 1 -61.8 -5 -64.7 -21 -70.1 -52 -75 -68 -75.9 -77 -75 -84 -74.8M36.5 84 29.5 79 26.7 76 24.8 73 23.4 69 23 66.2 23.7 56 23.4 51 22.5 47 18 39 8 30.1 5.5 27 3.2 22 2.9 17 3.5 14 4.9 11 7 8.4 9 6.8 14 4.3 24 2.3 28.2 1 31.9 -4 34 -10 34.4 -23 35.8 -39 38.2 -58 40.3 -68 42.9 -74 47 -79.8 53.9 -84M84 41.9 68 46.9 62 47.9 57 48.2 44 45.1 32 40.4 20 33.1 11 28.5 8.1 26 6.7 24 5.4 21 5 18 5.5 15 7 12 10 9 13 7.6 18 7 28 8.5 34 8.3 43 6 46.9 4 48.8 2 49.8 0 51.4 -6 52 -18 54.2 -29 57 -37 60.4 -44 65 -49.5 71 -53.7 77 -55.7 81 -55.8 84 -55.4M44 33.1 40 33.7 35 33.3 24 28.8 16 27.4 12 25.9 9.6 24 7.7 21 7.2 17 8.2 14 9.8 12 12 10.5 14 9.9 17 9.7 21 10.9 27 14.2 29 14.9 40 15.9 46 17.9 48.8 20 50.4 22 51.1 24 51.2 26 50.6 28 49 30.2 46.6 32 44 33.1M19 23.2 17 23.8 14 23.6 12 22.6 10.5 21 9.6 19 9.6 17 10.4 15 12 13.3 14 12.5 17 12.6 20.6 15 21.7 17 22 20 20.9 22 19 23.2"/></g>
<use href="#hd"/></g>
<g transform="translate(92.5 583.3)">
<g clip-path="url(#cp)"><g filter="url(#cm)"><circle r="83.6" fill="rgb(122,122,122)"/><ellipse cx="56.4" cy="-48.4" rx="108.8" ry="108.8" fill="url(#gn)" opacity=".32"/><ellipse cx="-8.1" cy="8.1" rx="72.5" ry="72.5" fill="url(#gp)" opacity=".06"/><ellipse cx="48.4" cy="64.5" rx="60.4" ry="60.4" fill="url(#gp)" opacity=".3"/><ellipse cx="-8.1" cy="84.6" rx="108.8" ry="43.5" fill="url(#gp)" opacity=".45"/><ellipse cx="-41.9" cy="64.5" rx="53.2" ry="67.7" fill="url(#gp)" opacity=".25"/><ellipse cx="-45.1" cy="60.4" rx="33.9" ry="60.4" fill="url(#gp)" opacity=".95"/></g><path class="ct" d="M28.9 -84 22.6 -78 17.5 -71 13.9 -63 12.4 -56 12.1 -48 13.6 -40 16.8 -32 22 -23.9 28.1 -17 36 -10.5 44 -6.3 51 -4.3 60 -3.7 67 -4.6 76 -7.8 84 -12.8M-84 56.6 -80.4 52 -76.5 38 -72.1 26 -67.8 18 -63 11.4 -59 7.3 -54 3.6 -48 .8 -45.1 0 -42 -2.6 -32 -8.4 -26 -10.9 -20 -10.6 -15 -9.7 -9 -6.5 -4.1 -3 0 1.1 4 6.5 7.1 13 9.1 19 16 25.3 23 26.7 45 26.2 52 26.7 58 27.7 65 29.6 71.2 32 79.8 37 84 40.5M-70.6 84 -71.3 74 -69.8 60 -68.1 51 -64.5 39 -60.4 31 -55.3 25 -50 21.6 -47 20.6 -44 20.3 -41 20.6 -37 22 -33 24.7 -30 27.7 -27 31.9 -25 35.6 -17 54.9 -13.7 59 -11 61.3 -2 63 8 63.1 12 62.6 19 60 22.2 58 33 49.3 39 46.5 44 45.1 49 44.8 54 45.6 59 47.8 63 50.9 66.7 55 69.1 59 70.4 63 70.9 69 70.5 73 68.8 79 66 84M-62.6 84 -64.4 76 -64.6 65 -63.5 54 -61.5 46 -58.5 39 -54.1 33 -50 29.9 -45 28.6 -42 28.9 -39 30.1 -36 32.2 -33 35.4 -30.7 39 -27.9 45 -23 59.9 -21 64 -17.5 68 -12 71.2 14 74.3 25 74.2 28 73.5 33 71.3 43 64.5 48 64.1 49 64.6 51.6 69 51 72.9 50 75 46.4 79 41.7 82 37.1 84M-56.6 84 -59.2 77 -60.4 69 -60.5 61 -59.2 52 -56.7 45 -53.7 40 -50 36.5 -48 35.5 -45 34.9 -41 35.8 -38 37.7 -35.1 41 -32.7 45 -30 52.5 -26 69.9 -24 74.9 -20.7 80 -20.1 82 -20.1 84M-49.1 84 -53 79.6 -55.4 74 -56.7 67 -56.7 59 -55.4 52 -52.8 46 -49 42 -47 41 -45 40.7 -43 41 -41 41.9 -37.7 45 -35 50 -33 57.1 -32 66 -32.3 75 -34 80.4 -37.1 84M-42 76.3 -44 76.9 -46 76.7 -49 74.7 -51.3 71 -52.8 65 -52.9 59 -51.5 53 -49 49 -46 47.2 -43 47.5 -40.2 50 -38.1 54 -36.9 59 -36.8 65 -37.8 70 -39.6 74 -42 76.3"/></g>
<use href="#hd"/></g>
<g transform="translate(317.4 583.3)">
<g clip-path="url(#cp)"><g filter="url(#cm)"><circle r="83.6" fill="rgb(131,131,131)"/><ellipse cx="-80.6" cy="8.1" rx="60.4" ry="145.1" fill="url(#gp)" opacity=".15"/><ellipse cx="-52.4" cy="-56.4" rx="72.5" ry="72.5" fill="url(#gp)" opacity=".25"/><ellipse cx="0" cy="80.6" rx="145.1" ry="48.4" fill="url(#gp)" opacity=".1"/><ellipse cx="0" cy="-24.2" rx="72.5" ry="72.5" fill="url(#gn)" opacity=".1"/><ellipse cx="28.2" cy="-64.5" rx="84.6" ry="60.4" transform="rotate(20 28.2 -64.5)" fill="url(#gn)" opacity=".5"/><ellipse cx="29.8" cy="-74.2" rx="53.2" ry="41.1" transform="rotate(20 29.8 -74.2)" fill="url(#gn)" opacity=".9"/></g><path class="ct" d="M24.6 -84 20 -82.2 17 -79.1 15.8 -75 16.5 -71 19 -66.8 23 -63.5 28 -61.6 34 -61.3 38 -62.7 41 -65 43 -69 43.1 -73 42 -76 38.7 -80 35 -82.5 30.2 -84M13 -84 10.3 -80 9.1 -75 9.8 -70 12.1 -65 16 -60.6 21 -57.2 26 -55.3 32 -54.5 37.3 -55 42.3 -57 46.1 -60 48 -62.7 49 -65 49.6 -70 48.5 -75 45.5 -80 41.3 -84M5.9 -84 3.4 -78 3.1 -72 4.7 -66 8 -60.4 13 -55.2 19 -51.4 26 -49.1 33 -48.3 40 -49.2 46 -51.6 50.5 -55 54 -60.1 55.4 -66 54.9 -72 52.5 -78 47.8 -84M-1.2 -84 -2.4 -81 -3.3 -77 -3.4 -73 -2.9 -69 -.7 -62 3.6 -55 9.7 -49 17 -44.6 25 -42.2 33 -41.5 42 -42.6 49 -45.1 55 -49.2 57.5 -52 59.3 -55 61 -59 61.6 -62 61.6 -69 59.4 -76 57.2 -80 54.2 -84M-9.5 -84 -10.6 -80 -11.1 -75 -10.8 -70 -9.8 -65 -6.4 -55 -4 -50.5 -.8 -46 6 -39 13 -35 16 -33.9 20 -33.2 31 -32.6 43 -33.7 53 -36.8 57.2 -39 61 -41.8 64 -44.8 66.3 -48 68.3 -52 69.8 -57 70.3 -61 70.2 -65 69.2 -70 67.5 -75 65 -79.9 62.2 -84M-20.9 -84 -20.7 -76 -16.6 -49 -16.2 -40 -18 -27 -18.1 -21 -19.3 -14 -19.2 -11 -18.4 -7 -17.5 -5 -14 0 -11 3.1 -6 4.6 0 5.3 6 4.6 12 2.7 16.8 0 21 -3.4 29.6 -7 38 -11.6 61 -20.3 68 -23.7 77.8 -31 81.4 -35 84 -39.1M-43.5 -84 -40 -80.9 -38 -78 -35.1 -73 -32.8 -67 -31.4 -61 -31 -54 -31.3 -49 -32.5 -44 -36 -35.2 -41.5 -29 -52 -18.9 -56.2 -14 -59.1 -9 -61.4 -2 -66.4 28 -68.2 34 -72.1 43 -75 47 -78 49 -81 49.4 -84 48.2"/></g>
<use href="#hd"/></g>
<g transform="translate(542.5 583.3)">
<g clip-path="url(#cp)"><g filter="url(#cm)"><circle r="83.6" fill="rgb(130,130,130)"/><ellipse cx="0" cy="-48.4" rx="133" ry="72.5" fill="url(#gn)" opacity=".2"/><ellipse cx="-32.2" cy="24.2" rx="48.4" ry="60.4" fill="url(#gn)" opacity=".18"/><ellipse cx="72.5" cy="24.2" rx="60.4" ry="72.5" fill="url(#gp)" opacity=".12"/><ellipse cx="32.2" cy="28.2" rx="60.4" ry="48.4" fill="url(#gp)" opacity=".08"/><ellipse cx="-68.5" cy="-40.3" rx="43.5" ry="48.4" fill="url(#gp)" opacity=".25"/><ellipse cx="-78.2" cy="16.1" rx="58" ry="72.5" fill="url(#gp)" opacity=".4"/><ellipse cx="-40.3" cy="-10.5" rx="48.4" ry="58" fill="url(#gn)" opacity=".5"/><ellipse cx="-79" cy="13.7" rx="48.4" ry="48.4" fill="url(#gp)" opacity=".95"/><ellipse cx="-41.9" cy="-12.9" rx="24.2" ry="26.6" fill="url(#gn)" opacity=".6"/></g><path class="ct" d="M-36.5 -2 -34 -3.2 -31.5 -7 -30.5 -12 -31 -16 -33 -20 -36 -22.7 -39 -23.8 -43 -23.6 -46.2 -22 -48.9 -18 -49.8 -14 -49.2 -10 -47.1 -6 -44 -3.2 -41 -1.9 -36.5 -2M-30.7 8 -28.6 6 -26.6 3 -23.7 -4 -22.7 -11 -23.6 -19 -26 -25.1 -28 -27.8 -30 -29.6 -33 -31.3 -35 -31.9 -38 -32.1 -41 -31.6 -46.8 -29 -51 -24.9 -52.9 -21 -53.8 -18 -54 -14 -53.3 -10 -52 -6.5 -50 -3.1 -44 3.4 -40 6.2 -37 7.4 -33 8.2 -30.7 8M-27.2 37 -24.9 36 -22 33.7 -18.3 27 -15.1 17 -8.7 -13 -7.8 -16 -5 -22 -2 -25.3 5 -29.3 16 -31.4 25 -35 30.5 -39 33.6 -43 35 -48 33.9 -53 30.2 -58 24 -62.2 19 -64.4 13 -66.1 7 -67.1 0 -67.4 -11 -66.5 -21 -63.7 -29.5 -62 -35.9 -57 -38 -54.6 -41 -50.7 -48.2 -39 -55.6 -29 -57.7 -23 -58.5 -18 -57.7 -12 -56 -7 -53 -1.1 -43.5 14 -35.8 35 -34 36.4 -32 37.1 -27.2 37M-84 -53.9 -80 -57.1 -77 -58.8 -74 -59.7 -70 -59.9 -67 -59.3 -65.2 -58 -60.5 -52 -59.2 -48 -59.3 -43 -60.6 -38 -63.3 -32 -64.9 -24 -64.6 -19 -63.7 -15 -61.1 -9 -53.7 5 -50.6 12 -49.1 19 -48.8 27 -50 36 -52.9 46 -55.8 51 -58.5 54 -64 57.9 -71 60.8 -77 61.6 -84 61.2M84 45.2 79 48.3 73 50.1 66 50.1 60 48.9 37 42.2 30 39.7 26 37.3 23.5 35 21.5 32 20.7 28 21.2 25 22.2 23 27.2 19 31 16.9 45 11.3 62 3.1 68 1.4 74 1.1 79 2.1 84 4.5M-84 -16.8 -80 -17.2 -76 -16.4 -72 -14.1 -66 -8.3 -60.6 0 -56.6 8 -55.2 13 -54.6 19 -55 24 -56.7 30 -59.3 35 -63.2 40 -68 43.2 -74 45.3 -79 45.8 -84 45.2M-84 -7.7 -80 -8.1 -76 -7.5 -72 -5.7 -68 -2.6 -64.9 1 -62.1 6 -60.4 11 -59.8 16 -60.1 20 -61.5 25 -64 29.4 -67.5 33 -71 35.3 -75 36.5 -80 36.9 -84 36.3M-84 .2 -80 -.5 -77 -.2 -74 .8 -71 2.8 -68.9 5 -67 8.3 -65.8 12 -65.6 15 -66.2 19 -67.5 22 -69 24.2 -72 26.8 -75 28.3 -78 28.9 -81 28.8 -84 27.9"/></g>
<use href="#hd"/></g>
<g transform="translate(767.5 583.3)">
<g clip-path="url(#cp)"><g filter="url(#cm)"><circle r="83.6" fill="rgb(130,130,130)"/><ellipse cx="0" cy="84.6" rx="241.8" ry="120.9" fill="url(#gp)" opacity=".45"/><ellipse cx="-8.1" cy="-36.3" rx="101.6" ry="53.2" fill="url(#gn)" opacity=".28"/><ellipse cx="84.6" cy="-32.2" rx="36.3" ry="96.7" fill="url(#gp)" opacity=".6"/><ellipse cx="47.6" cy="-6.4" rx="43.5" ry="62.9" fill="url(#gn)" opacity=".55"/><ellipse cx="46.3" cy="-12.5" rx="21.8" ry="21.8" fill="url(#gn)" opacity=".8"/></g><path class="ct" d="M49.2 -5 51 -6.1 52.9 -9 53.4 -12 52.9 -15 51 -17.7 49 -19 47 -19.5 44 -19 42 -17.8 40 -15 39.5 -12 40 -9.3 41.4 -7 44 -5 47 -4.5 49.2 -5M50.7 0 54 -2.8 56.2 -7 57 -12 56.2 -16 54 -19.8 51 -22.3 47 -23.5 43 -22.9 39 -20.2 36.9 -17 35.9 -13 36.5 -8 38.6 -4 42 -.7 46 .8 48 .9 50.7 0M48.7 8 51 7.4 53 6.2 55 4.3 57.3 1 59.9 -6 60.2 -13 59.4 -17 58.2 -20 55 -24.4 53 -26.1 50 -27.8 48 -28.5 45 -28.6 42 -27.9 39 -26.4 35 -22.4 32.6 -17 32.3 -10 34.3 -3 36.6 1 39 4 43 7.1 46 8 48.7 8M-.3 -28 4 -29.4 10 -32.3 12 -33.6 13.1 -35 13.3 -36 12.8 -37 8.7 -41 6 -43 3 -44.4 -1 -45.5 -6 -46.2 -15 -45.6 -19 -44.4 -23 -42.5 -25.8 -40 -26.8 -38 -26.9 -35 -25.6 -33 -23.3 -31 -19.3 -29 -15 -27.8 -10 -27.2 -5 -27.3 -.3 -28M52 16 55 14.3 58 11.3 59.6 9 61.3 5 63.1 -1 63.8 -6 63.8 -12 62.8 -18 61 -23.3 58.6 -28 55 -32.6 52 -35.3 49 -37.4 46 -38.3 41 -38.6 37 -37.9 29.7 -35 27.4 -33 26.3 -31 25.9 -28 26.2 -15 28 -5 32.8 6 35 9.4 38 12.6 41 14.8 45 16.4 48 16.7 52 16M52.2 25 55.5 24 59.8 21 62 18.6 64.3 15 66 10.7 67.2 5 67.7 0 67.7 -8 67.2 -14 66.2 -20 63.1 -32 61 -37.7 58 -44.4 55 -49.3 49 -55.7 36 -58.8 25 -60.1 16 -62.8 7 -64.6 -5 -65.6 -18 -65.2 -32 -62.8 -39 -60.8 -45 -58.4 -51 -55.2 -55.4 -52 -58.6 -49 -61.6 -45 -63.9 -39 -64.1 -35 -63.6 -32 -58.9 -26 -52 -20.7 -42 -15.8 -30 -12.5 -21 -11.1 -13 -10.5 -4 -10.5 4 -11.1 12 -9 15 -7.3 18 -3.9 26.4 11 30.1 16 34 19.8 38 22.5 43 24.6 48 25.4 52.2 25M-84 28.2 -73 24.5 -63 21.7 -42 17.4 -27 15.7 6 14.9 8.9 16 16 20.3 30 30.1 35 32.7 40 34.6 47 36.1 54 36.2 59 35.5 64 32.7 68 29 70.5 25 71.7 22 72.8 15 73 5 72.1 -7 66 -45 65.4 -62 67 -72.1 69.1 -78 72.1 -84M84 9.5 82 7.4 80 3.6 77 -6.2 73.2 -27 72 -38 71.8 -45 72.9 -57 75.2 -64 77 -67.5 79 -70.1 81 -71.8 84 -72.9M-81.3 84 -80.8 80 -79.4 76 -75 68.9 -67.5 62 -57 55.6 -45 50.8 -31 47.1 -16 44.8 0 44 12 44.4 23 45.7 40 51.5 57 55.6 67.5 62 75 68.9 79.4 76 80.8 80 81.3 84"/></g>
<use href="#hd"/></g>
<g transform="translate(992.5 583.3)">
<g clip-path="url(#cp)"><g filter="url(#cm)"><circle r="83.6" fill="rgb(125,125,125)"/><ellipse cx="16.1" cy="84.6" rx="169.3" ry="72.5" fill="url(#gn)" opacity=".5"/><ellipse cx="80.6" cy="-32.2" rx="67.7" ry="108.8" fill="url(#gp)" opacity=".6"/><ellipse cx="-56.4" cy="-12.1" rx="48.4" ry="101.6" fill="url(#gp)" opacity=".45"/><ellipse cx="-20.1" cy="-76.6" rx="53.2" ry="72.5" fill="url(#gn)" opacity=".5"/><ellipse cx="-28.2" cy="40.3" rx="48.4" ry="48.4" fill="url(#gn)" opacity=".22"/><ellipse cx="-55.6" cy="-16.1" rx="24.2" ry="72.5" fill="url(#gp)" opacity=".95"/><ellipse cx="5.6" cy="-25.8" rx="36.3" ry="48.4" fill="url(#gp)" opacity=".2"/><ellipse cx="-24.2" cy="-36.3" rx="24.2" ry="60.4" fill="url(#gn)" opacity=".35"/><ellipse cx="-26.6" cy="8.1" rx="29" ry="36.3" fill="url(#gn)" opacity=".6"/></g><path class="ct" d="M-31 -84 -32.4 -77 -32 -68.2 -27.2 -43 -26 -38.6 -24 -36.1 -22 -37 -21.6 -38 -16.7 -52 -11 -63.4 -8.4 -70 -7.8 -77 -9.3 -84M-22.8 20 -20.5 18 -18.7 15 -17.5 11 -17.5 6 -18.7 2 -20.5 -1 -23 -3.1 -26 -3.6 -29 -2.2 -32 1.3 -33.6 6 -33.8 11 -32.7 15 -30 18.9 -27 20.6 -25 20.7 -22.8 20M54.8 84 53.8 81 51.6 78 47.6 75 43 72.7 37 70.7 31 69.3 24 68.4 16 68.1 6 68.3 -2 69.2 -8 70.4 -13.2 72 -17 74 -20.5 77 -22.8 81 -23.3 84M-42.2 -84 -42.2 -78 -41.4 -73 -35.2 -50 -32 -33.5 -28.4 -19 -28.1 -16 -28.7 -13 -35.1 -1 -37.1 6 -37.1 14 -34.1 31 -34.5 34 -39.1 50 -41.8 58 -44.5 63 -54.9 75 -60.2 84M84 70.4 75 65.6 64.4 61 52 56.7 39 52.8 30 51.7 11 50.6 1.3 49 -5 45.7 -8 43.2 -11.3 39 -14.2 30 -14.1 26 -11.9 15 -11.9 6 -13.3 0 -17.9 -11 -18.7 -14 -18.6 -17 -16.5 -26 -11.5 -42 -8.6 -48 0 -61 2.4 -66 4.3 -74 3.8 -84M-56.7 -84 -55 -82 -50 -73.1 -46 -65.2 -43 -58 -38 -42 -34.8 -26 -34.2 -19 -34.5 -14 -39.8 4 -40.6 11 -41 23 -41.7 27 -45 36 -49 42.2 -53 46.8 -55 48.5 -58 50 -63 50.5 -66 49.6 -76 48.1 -84 43M84 44.9 77.4 44 69.4 42 57 37 45.8 31 37.1 25 25 15.2 19 12.5 12 13.5 3 11.8 -5 -1.9 -8.6 -12 -9.6 -19 -9.3 -24 -6.5 -34 -4 -38.7 0 -43.7 8 -48.7 14.3 -51 18 -53.3 20.7 -56 22.7 -59 26.1 -66 28.8 -84M84 21 77 20.8 71 19 64.4 15 60.5 11 55.7 4 52.4 -3 49.5 -12 47.6 -22 47 -32 47.5 -42 49.3 -52 51.8 -60 55.4 -68 60 -74.9 65 -80 71.1 -84M-55 34.2 -57 34.8 -60 34.7 -63.5 33 -67 29.8 -71.5 23 -73.9 17 -75.9 9 -77.2 1 -78 -8 -78 -18 -77 -29 -75 -39 -72.3 -48 -70 -53.6 -65.7 -60 -63 -62.8 -59 -64.5 -56 -64.1 -53 -62.4 -50 -59.2 -47 -54.6 -43.9 -47 -41.4 -39 -39.2 -28 -38.5 -21 -39 -11 -42.2 2 -45.5 21 -47 24.9 -49.7 30 -52 32.3 -55 34.2M84 .8 79 1.2 75 0 71 -2.5 67 -6.9 64 -12 61.7 -18 60.3 -25 59.8 -32 60.2 -39 61.6 -46 64 -52.5 67 -57.6 71 -62 75 -64.5 79 -65.6 84 -65.3M-55 24.4 -58 24.4 -61 22.8 -63.7 20 -66 16 -68 10.9 -69.7 4 -71.4 -11 -71.3 -19 -70.5 -27 -69.1 -35 -67.5 -41 -65.4 -46 -62.2 -51 -60 -53.1 -57 -54.2 -55 -53.9 -52 -52 -48 -46.4 -44 -34.4 -42 -22 -42.5 -10 -47.8 14 -49.3 18 -51 20.9 -53 23.4 -55 24.4M-55 15.4 -57 15.4 -59 14.4 -61 12.3 -63.3 8 -66 -2 -67 -13 -66.4 -25 -64 -36 -62 -40.5 -60 -43.4 -58 -45.1 -56 -45.6 -54 -45 -52 -43.3 -49 -38.4 -46.5 -30 -45.1 -20 -45.6 -10 -48.5 3 -51 10.3 -53 13.5 -55 15.4M84 -26.6 82 -24.7 80 -24.5 79 -24.8 77.7 -26 76.5 -28 75.7 -32 76.7 -37 79 -39.6 80 -40 82 -39.7 84 -37.9M-55 5.1 -56 5.5 -58 4.5 -60.3 1 -62.2 -6 -63 -14 -62.7 -22 -61 -30 -59 -34.1 -58 -35.3 -56 -36.3 -54 -35.7 -53 -34.7 -51 -31.2 -49.3 -25 -48.4 -17 -49 -10.7 -50.7 -3 -53 2.5 -55 5.1"/></g>
<use href="#hd"/></g>
<g transform="translate(1217.5 583.3)">
<g clip-path="url(#cp)"><g filter="url(#cm)"><circle r="83.6" fill="rgb(166,166,166)"/><ellipse cx="-40.3" cy="54.8" rx="120.9" ry="120.9" fill="url(#gn)" opacity=".55"/><ellipse cx="84.6" cy="-16.1" rx="60.4" ry="145.1" fill="url(#gp)" opacity=".55"/><ellipse cx="-76.6" cy="-44.3" rx="72.5" ry="72.5" fill="url(#gp)" opacity=".7"/><ellipse cx="0" cy="24.2" rx="72.5" ry="72.5" fill="url(#gn)" opacity=".22"/><ellipse cx="-45.1" cy="54.8" rx="58" ry="77.4" transform="rotate(-30 -45.1 54.8)" fill="url(#gn)" opacity=".85"/><ellipse cx="12.1" cy="76.6" rx="60.4" ry="60.4" fill="url(#gn)" opacity=".26"/><ellipse cx="17.7" cy="-13.7" rx="48.4" ry="53.2" fill="url(#gn)" opacity=".45"/><ellipse cx="-16.1" cy="-68.5" rx="48.4" ry="48.4" fill="url(#gn)" opacity=".11"/><ellipse cx="16.1" cy="-13.3" rx="24.2" ry="24.2" fill="url(#gn)" opacity=".8"/></g><path class="ct" d="M18.8 -7 21 -8.6 22.4 -11 22.7 -14 22.1 -16 20.7 -18 19 -19.2 17 -19.7 14 -19.4 11.7 -18 10.2 -16 9.5 -13 10 -10.6 11.8 -8 14 -6.7 16 -6.4 18.8 -7M-34.7 76 -31 74.2 -28.4 72 -26.1 69 -24.4 65 -23.7 61 -23.7 56 -24.5 52 -26.5 47 -28.9 43 -31.6 40 -35.2 37 -39 34.8 -43 33.4 -47 32.9 -51 33.2 -55 34.6 -58 36.6 -60.2 39 -62 42.1 -63.2 46 -63.7 50 -63.4 54 -62.5 58 -60.9 62 -59 65.4 -56.2 69 -53 72 -50 74 -46 75.8 -42 76.7 -38 76.7 -34.7 76M18.7 -2 22.6 -4 25.2 -7 26.7 -11 26.7 -15 25.1 -19 22 -22.2 18 -23.7 14 -23.6 10 -21.8 7 -18.5 5.4 -14 5.6 -10 7.4 -6 11 -2.7 15 -1.6 18.7 -2M-24.8 84 -20 80.8 -16.2 77 -13.4 73 -11.2 68 -10.3 63 -10.2 58 -11 52.4 -12.8 46 -15 41 -17.5 37 -21 33 -24.7 30 -29.7 27 -35 24.7 -41 23 -47 22.4 -52 22.8 -57 24.2 -61 26 -64.9 29 -68 32.7 -70.3 37 -71.9 42 -72.7 47 -72.6 52 -71.7 58 -70 63.3 -67.2 69 -64 73.7 -60 78 -56 81.2 -51.3 84M15.4 5 21 3.2 26 -.6 29.5 -6 30.9 -12 30 -18 27 -23.1 23 -26.3 20 -27.5 17 -27.9 14 -27.7 11 -26.9 8 -25.2 5.5 -23 2.2 -18 1.3 -15 .8 -11 2 -4 5 1.2 7 3 10 4.6 13 5.1 15.4 5M0 84 4 81.7 7.9 78 10.1 74 10.7 70 10.6 67 9.5 62 1.4 31 -1 26.2 -5 21.7 -14 17.9 -33 13.8 -42 13.3 -50 13.7 -55 14.5 -60.2 16 -65 18.2 -70 21.7 -74.4 26 -77 29.8 -79.3 35 -80.8 41 -81.4 47 -81.2 53 -79.8 61 -77.8 67 -74.9 73 -71 78.9 -66.5 84M24.9 84 27.5 77 27.9 69 26.9 62 23.4 49 21.5 40 21.5 26 22.2 21 23.5 17 27 10 32 2.1 34 -2.3 35.3 -7 35.8 -12 35.1 -18 33.1 -23 29.4 -28 25 -31.3 21 -32.8 15 -33.3 10 -32.2 4.3 -29 .2 -25 -2.6 -21 -5.4 -15 -8 -7.6 -12.1 -3 -16 -.4 -29 2.1 -39 2.8 -49 4.1 -62 7.4 -68.5 10 -75 13.8 -80 18 -84 22.4M41.4 84 42.7 76 42.6 68 37.2 35 37.8 20 42.4 -5 42.4 -15 40.7 -23 38 -29 34 -34.5 28 -39.3 23 -41.5 17 -42.6 11 -42.4 5 -40.7 1 -38.7 -5 -34.3 -15.5 -22 -18 -19.7 -30 -12.1 -44.6 -8 -64 -1.7 -78 3.2 -84 6M-44 -84 -37.9 -66 -32.3 -46 -32.1 -41 -33.5 -36 -40.2 -26 -45.9 -21 -51 -17.3 -60 -13.3 -66 -11.2 -74 -9.1 -84 -7.3M72.3 84 69 73 63 58.3 56.6 36 53.7 22 52.9 -9 52.2 -18 49.7 -33 46.4 -48 43.2 -59 45.6 -71 49.4 -84M-84 -72.3 -78 -73.3 -71 -72.8 -65 -70.9 -60.4 -68 -57 -64.9 -53.2 -59 -51 -53 -49.8 -46 -50.6 -40 -52.2 -35 -55.7 -30 -60 -25.9 -65 -22.8 -71 -20.5 -77 -19.6 -84 -20.1M84 31 80 29.7 77 27.2 73.5 22 71 16.4 68.1 7 65.9 -3 65.3 -19 65.4 -26 66.6 -35 68.5 -43 71 -50 74 -55.7 77 -59.5 80 -61.9 84 -63.2"/></g>
<use href="#hd"/></g>
<g transform="translate(1442.5 583.3)">
<g clip-path="url(#cp)"><g filter="url(#cm)"><circle r="83.6" fill="rgb(115,115,115)"/><ellipse cx="44.3" cy="-60.4" rx="84.6" ry="84.6" fill="url(#gn)" opacity=".24"/><ellipse cx="0" cy="8.1" rx="72.5" ry="84.6" fill="url(#gp)" opacity=".1"/><ellipse cx="-44.3" cy="64.5" rx="77.4" ry="65.3" fill="url(#gp)" opacity=".95"/><ellipse cx="44.3" cy="64.5" rx="72.5" ry="65.3" fill="url(#gp)" opacity=".62"/><ellipse cx="-72.5" cy="-40.3" rx="48.4" ry="77.4" fill="url(#gp)" opacity=".4"/><ellipse cx="0" cy="76.6" rx="24.2" ry="36.3" fill="url(#gn)" opacity=".4"/><ellipse cx="0" cy="54.8" rx="24.2" ry="29" fill="url(#gn)" opacity=".75"/></g><path class="ct" d="M2.3 63 4 61.4 5.3 59 6 56 5.7 53 5 51 3 48.8 1 47.9 -1 48 -3 49 -5 52 -5.5 55 -5.2 58 -4 60.7 -2 62.9 0 63.7 2.3 63M48.4 -52 51 -53.4 53.4 -57 54.1 -61 52.9 -65 50.5 -68 47 -69.8 43 -70.1 40 -69.2 37.1 -67 35.8 -65 35.3 -61 36.4 -57 38 -54.8 41 -52.6 45 -51.6 48.4 -52M1.1 79 2.5 77 4 71 8 61.4 9 55 8.4 51 6.4 47 3 44.3 0 43.8 -3 44.7 -6 47.3 -7.7 51 -8.3 56 -7.3 61 -3.2 71 -2 76.7 -1 78.5 0 79.1 1.1 79M-35.4 -84 -31.8 -68 -28 -54 -26 -47.1 -24 -42.3 -16 -39.8 -7 -35.7 8 -26.7 22.8 -16 35.6 -5 39.5 -1 41 -.2 48 2.1 67 6.7 84 12.2M8.2 84 9.4 70 11.8 58 11.7 51 10.6 47 8 42.6 5 40.1 1 39 -3 39.7 -7 42.9 -9.4 47 -10.5 51 -10.6 58 -8.2 69 -6.7 84M-84 -65.6 -79 -69.7 -74 -71.4 -69 -71 -64 -68.4 -59.9 -64 -56.1 -57 -53.8 -49 -52.9 -40 -53.5 -32 -55.7 -24 -59.3 -17 -64 -12 -69 -9.5 -74 -9.2 -79 -10.9 -84 -15M-84 44.5 -79 38.7 -71 32.2 -63 28 -55 25.7 -42 24.5 -32 24.8 -23 26.5 -13.2 30 -12.4 31 -11.1 35 -13.5 52 -13.2 58 -11.4 71 -11.6 80 -12.2 84M16 84 14.3 78 14 72 15.7 55 15.8 40 17.1 36 18 34.7 30 31.3 35 30.4 41 30.1 47 30.5 52 31.4 57 32.8 62 35 66 37.4 70.6 41 74 44.5 76.5 48 78.7 52 80.4 57 81.2 61 81.3 66 80.9 70 79.5 75 77.1 80 74.4 84M-72 -32.7 -74 -33.1 -75.9 -35 -76.8 -37 -77.3 -40 -77 -43 -76 -45.5 -74.8 -47 -73 -47.9 -71 -47.5 -69.4 -46 -68.4 -44 -67.8 -41 -68 -38 -69 -35.2 -70 -33.9 -72 -32.7M-70.6 84 -73.3 81 -76 77 -77.8 73 -78.9 69 -79.3 65 -78.9 60 -77.8 56 -76 52 -73.4 48 -70.6 45 -67 42 -62.1 39 -53 35.7 -43 34.6 -35 35.4 -28 37.4 -21.2 41 -19 44.6 -17.2 51 -15.2 69 -15.9 77 -17.4 81 -19.2 84M34.4 84 26 79.3 24 77.5 22.6 75 20.8 71 20.5 69 21.3 58 23.7 51 26 48.7 35 44.1 39.5 43 44 42.7 48 43 52 44 56 45.6 59 47.5 62 50 64.5 53 66.2 56 67.7 60 68.1 63 68 67 67.1 71 65.7 74 63.7 77 61 79.8 58 82.1 54.2 84M-56.4 84 -60.1 82 -63.9 79 -66.6 76 -68.4 73 -69.6 70 -70.4 66 -70.3 62 -69.6 59 -68 55.2 -66 52.2 -63 49.1 -60 46.8 -56 44.7 -52 43.4 -44 42.3 -39 42.7 -35 43.6 -28 46.9 -24 50 -21 57 -19.9 67 -20.1 71 -20.8 73 -24.6 79 -28.5 82 -32.3 84M45 73 41 72.6 38 71 35.5 68 34.6 65 34.9 62 36.6 59 39.1 57 43 55.8 47 56.1 50.7 58 53.1 61 53.8 64 53.4 67 51.6 70 48.8 72 45 73M-39 78.2 -45 78.9 -51 77.8 -56 75.1 -59.6 71 -61.4 66 -61 61 -58.2 56 -54 52.5 -51 51.1 -47 50.1 -40 50.4 -37 51.3 -33.7 53 -31 55.2 -28.9 58 -27.6 61 -27.1 64 -27.3 67 -28.4 70 -30.4 73 -32.5 75 -35.7 77 -39 78.2"/></g>
<use href="#hd"/></g>
<g transform="translate(1667.5 583.3)">
<g clip-path="url(#cp)"><g filter="url(#cm)"><circle r="83.6" fill="rgb(128,128,128)"/><ellipse cx="80.6" cy="4" rx="60.4" ry="133" fill="url(#gp)" opacity=".33"/><ellipse cx="-32.2" cy="76.6" rx="72.5" ry="72.5" fill="url(#gn)" opacity=".12"/><ellipse cx="-64.5" cy="-40.3" rx="72.5" ry="84.6" fill="url(#gp)" opacity=".33"/><ellipse cx="-28.2" cy="40.3" rx="72.5" ry="48.4" fill="url(#gn)" opacity=".21"/><ellipse cx="-14.5" cy="-9.7" rx="48.4" ry="48.4" fill="url(#gn)" opacity=".5"/><ellipse cx="48.4" cy="51.6" rx="43.5" ry="43.5" fill="url(#gp)" opacity=".57"/><ellipse cx="-14.9" cy="-11.9" rx="21.8" ry="21.8" fill="url(#gn)" opacity=".85"/></g><path class="ct" d="M-12.1 -5 -10 -6.4 -8.2 -9 -7.7 -11 -8.1 -14 -9.2 -16 -11.7 -18 -14 -18.7 -17 -18.3 -19.4 -17 -21 -15 -21.8 -12 -21.4 -9 -20 -6.8 -17.4 -5 -15 -4.5 -12.1 -5M-10.2 -1 -7 -3.2 -4.5 -7 -3.6 -12 -4.7 -16 -7 -19.3 -11 -21.8 -15 -22.4 -19 -21.4 -22.4 -19 -24.9 -15 -25.6 -11 -24.8 -7 -22.1 -3 -19 -1 -15 0 -10.2 -1M-10.3 5 -5 2.3 -1.1 -2 1.1 -8 1.3 -11 .9 -14 0 -17 -1.8 -20 -6 -24 -9 -25.5 -12 -26.2 -17 -26.1 -20 -25.1 -23 -23.4 -27.1 -19 -28.6 -16 -29.4 -13 -29.3 -7 -28.4 -4 -26.7 -1 -24.1 2 -22 3.5 -19 4.9 -16 5.5 -10.3 5M-28.9 64 -24 62.6 -19 59.8 -14 55.7 -9.7 50 -8.3 47 -7.7 44 -8.7 36 -9.8 33 -14.3 26 -15.4 23 -15 22 -11.4 19 -3.6 14 2.6 8 6.6 2 8.9 -5 9.4 -9 9 -14 7.5 -19 5.9 -22 3 -25.5 -1 -28.8 -4 -30.5 -9 -32.1 -16 -32.2 -22 -30.2 -27.7 -26 -32 -20.3 -33.9 -16 -34.8 -12 -35.1 -7 -34.4 -2 -33.1 3 -31.2 7 -27 13.9 -24.1 17 -22 21 -22.5 22 -36 28.2 -43.3 33 -47.3 37 -49.9 42 -50 46 -49.2 49 -47 53.5 -44 57.2 -41 60.1 -37 62.6 -33 63.9 -28.9 64M-21.2 -84 -17.2 -78 -14.1 -72 -11.3 -65 -9.3 -58 -12 -55.8 -16.5 -50 -29 -36.9 -36.4 -27 -41.5 -17 -48 3.7 -51 8.4 -56.2 13 -58 14 -75 18.5 -80 19 -84 18.6M31.6 84 28 81.5 23 76.4 21.9 75 19.7 70 18.3 66 17.2 60 16.9 54 17.4 48 19.3 39 23 28 27.5 19 32.8 11 33 0 34.4 -22 36.7 -37 40 -51.2 43 -60.6 46.3 -69 50.3 -77 54.6 -84M-84 -54.3 -80 -60 -75 -64 -69 -66.5 -66 -67 -62 -66.9 -56 -65.1 -50 -61 -45.9 -56 -42.8 -49 -43.3 -44 -44.6 -38 -48.5 -29 -54 -20.7 -57.9 -17 -62 -14.1 -64 -13.6 -68 -13.9 -74 -16 -77 -17.9 -80 -20.6 -84 -26.3M84 50.7 74 62.6 67.4 68 64 70 59.4 72 51 73.4 43 72.2 39 70.4 35 67.6 32 64.1 30 60.5 28.6 56 28.1 52 28.6 47 29.8 43 31.9 39 35 35.3 38 32.7 43 29.5 55.6 24 58.7 21 60.4 17 61.7 10 61.6 -1 62.8 -11 64.3 -18 66.8 -25 70.8 -32 75 -36.1 79 -37.8 82 -37.9 84 -37.3M54 64.1 48 64.7 43 63.2 38.9 60 36.4 55 35.9 52 36.1 49 38 44.3 42 40.1 47 37.8 53 37.3 58 38.8 62 42 64.2 46 64.7 49 64.5 52 62.7 57 59 61.4 54 64.1"/></g>
<use href="#hd"/></g>
<g transform="translate(1892.5 583.3)">
<g clip-path="url(#cp)"><g filter="url(#cm)"><circle r="83.6" fill="rgb(128,128,128)"/><ellipse cx="-60.4" cy="-48.4" rx="108.8" ry="108.8" fill="url(#gp)" opacity=".3"/><ellipse cx="-64.5" cy="-58" rx="72.5" ry="72.5" fill="url(#gp)" opacity=".9"/><ellipse cx="-44.3" cy="56.4" rx="72.5" ry="72.5" fill="url(#gn)" opacity=".15"/><ellipse cx="84.6" cy="28.2" rx="48.4" ry="72.5" fill="url(#gn)" opacity=".55"/><ellipse cx="44.3" cy="16.1" rx="60.4" ry="48.4" fill="url(#gn)" opacity=".15"/><ellipse cx="-76.6" cy="-4" rx="48.4" ry="60.4" fill="url(#gn)" opacity=".15"/><ellipse cx="3.2" cy="-1.6" rx="48.4" ry="48.4" fill="url(#gn)" opacity=".4"/><ellipse cx="-16.1" cy="24.2" rx="36.3" ry="48.4" fill="url(#gp)" opacity=".5"/><ellipse cx="32.2" cy="46.7" rx="48.4" ry="24.2" transform="rotate(45 32.2 46.7)" fill="url(#gp)" opacity=".3"/><ellipse cx="3.2" cy="-1.2" rx="19.3" ry="24.2" fill="url(#gn)" opacity=".8"/><ellipse cx="-16.1" cy="18.5" rx="16.9" ry="16.9" fill="url(#gp)" opacity=".8"/></g><path class="ct" d="M5.4 6 7.3 5 9 2.9 10 0 9.9 -3 8.8 -6 7 -8.1 5 -9.1 2 -9.1 0 -8.1 -1.7 -6 -2.6 -3 -2.5 0 -1.3 3 .5 5 3 6.2 5.4 6M7.4 10 11.1 8 13.3 5 14.7 1 14.6 -4 12.5 -9 9.8 -12 6 -14 2 -14 -2 -12 -4.5 -9 -5.8 -5 -5.7 0 -4 4.4 -1 8 3 10.1 7.4 10M84 10 81 10.4 79 11.4 75.1 15 72.5 20 71.6 26 72.5 33 75 39.2 79 43.8 81.2 45 84 45.7M13.6 15 22 11.7 24.2 9 25.1 6 25.1 3 23.4 -4 19.4 -12 16.9 -15 14 -17.3 10 -19.4 7 -20.2 3 -20.4 -1 -19.5 -6 -15.9 -9.2 -11 -10.1 -7 -10.1 -5 -9.7 -2 -8.5 2 -5 7.6 0 12.8 3 14.4 7 15.5 10 15.6 13.6 15M84 -6.3 80 -5.9 76 -4.6 72 -2.5 65.9 2 61.7 6 56.5 12 54.8 15 54.1 19 55.1 24 59.4 35 64.4 46 68 51.9 71.4 56 76 59.7 80 61.5 84 62.2M23.5 -84 27.7 -72 29.8 -62 30.7 -52 30.6 -42 21 -41.4 17 -39.8 11 -38.4 5 -36.2 -3 -30.8 -11.7 -24 -15 -19.7 -17.3 -16 -18.7 -12 -19.1 -7 -18.2 -4 -14.6 1 -7 9.3 1 19.6 8 26.8 11 28 17 27.7 24 28.3 30 30.2 37 33.8 44.1 40 47.6 44 50.4 48 53.4 54 55.1 59 56.1 64 55.4 71 54 73.6 50 78.7 47 78.4 41 76.8 34 73.5 28 69.7 18.3 60 13 52.2 9 50.5 7 50.1 5 50.5 -2 54.5 -8 55.9 -15 55.2 -22 52.2 -28 47.5 -32.8 42 -37.9 34 -43.8 22 -50.3 13 -58 9.1 -65.2 2 -69 -1.1 -73 -3.6 -78 -5 -81 -5.2 -84 -4.7M-24.9 -84 -19.6 -75 -16.6 -66 -15.3 -57 -15.5 -49 -16.7 -44 -21.1 -35 -25.1 -29 -31 -21.7 -37 -16.4 -41 -14 -44 -12.7 -49 -12.4 -57 -13.6 -72 -18.7 -84 -21.7M-12 41.2 -15 41.8 -18 41.4 -21 40.2 -23 38.7 -27 33.7 -30.1 26 -30.8 20 -29.8 14 -27 9.5 -24 7.3 -22 6.5 -19 6.1 -16 6.4 -11 9.1 -6.6 14 -3.5 21 -3.2 27 -5 34 -8 38.6 -12 41.2M38 55.2 36 55.1 33 53.9 28 49.8 26.1 47 25 44 25 42 26 40.6 28 40 31 40.8 34.6 43 37.6 46 39.4 49 40.2 52 39.8 54 38 55.2M-43.2 -84 -38 -79.2 -34.3 -74 -31.4 -68 -29.7 -61 -29.5 -54 -30.4 -48 -32.9 -41 -36 -35.8 -40 -31.8 -44 -28.9 -49 -26.8 -54 -25.9 -60 -26.2 -67 -27.6 -77 -30.5 -84 -33.5M-14 31 -17 31.4 -19 30.8 -21 29.5 -23.9 26 -25.5 22 -25.5 18 -24.6 15 -22.2 12 -19 10.4 -15 10.3 -12 11.7 -9.7 14 -7.7 18 -7.5 22 -8.8 26 -11 29.1 -14 31M-84 -68.6 -81.7 -72 -79 -74.7 -73 -78.4 -66 -80.1 -62 -80 -58 -79.3 -54.5 -78 -51 -76 -45.8 -71 -43.9 -68 -42.2 -64 -41.2 -57 -42.2 -50 -43.5 -47 -45.6 -44 -48.5 -41 -51 -39.3 -57 -37.2 -61 -36.9 -65 -37.2 -73 -39.4 -77 -41.4 -80 -43.6 -84 -48.3M-15 25.1 -17 25.2 -19 24.5 -21 22.4 -21.9 20 -21.9 18 -21 15.8 -19.1 14 -17 13.3 -15 13.4 -13 14.4 -11.5 16 -10.7 18 -10.7 20 -11.3 22 -13 24.2 -15 25.1"/></g>
<use href="#hd"/></g>
</svg></body></html>
